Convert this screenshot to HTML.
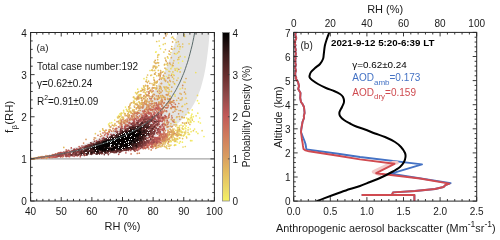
<!DOCTYPE html><html><head><meta charset="utf-8"><style>html,body{margin:0;padding:0;background:#fff;width:500px;height:240px;overflow:hidden}svg{display:block;will-change:transform}text{font-family:"Liberation Sans",sans-serif}</style></head><body>
<svg width="500" height="240" viewBox="0 0 500 240">
<rect width="500" height="240" fill="#fff"/>
<clipPath id="ca"><rect x="30.6" y="32.5" width="183.8" height="168.5"/></clipPath>
<g clip-path="url(#ca)">
<path fill="#e3e3e3" d="M30.6 158.9 L31.5 158.7 L32.4 158.5 L33.4 158.3 L34.3 158.1 L35.2 157.9 L36.1 157.8 L37.1 157.6 L38.0 157.4 L38.9 157.2 L39.8 157.0 L40.7 156.8 L41.7 156.6 L42.6 156.4 L43.5 156.2 L44.4 155.9 L45.4 155.7 L46.3 155.5 L47.2 155.3 L48.1 155.1 L49.0 154.9 L50.0 154.6 L50.9 154.4 L51.8 154.2 L52.7 154.0 L53.7 153.7 L54.6 153.5 L55.5 153.3 L56.4 153.0 L57.3 152.8 L58.3 152.5 L59.2 152.3 L60.1 152.0 L61.0 151.8 L62.0 151.5 L62.9 151.3 L63.8 151.0 L64.7 150.7 L65.6 150.5 L66.6 150.2 L67.5 149.9 L68.4 149.6 L69.3 149.4 L70.2 149.1 L71.2 148.8 L72.1 148.5 L73.0 148.2 L73.9 147.9 L74.9 147.6 L75.8 147.3 L76.7 147.0 L77.6 146.7 L78.5 146.4 L79.5 146.0 L80.4 145.7 L81.3 145.4 L82.2 145.1 L83.2 144.7 L84.1 144.4 L85.0 144.0 L85.9 143.7 L86.8 143.3 L87.8 143.0 L88.7 142.6 L89.6 142.2 L90.5 141.9 L91.5 141.5 L92.4 141.1 L93.3 140.7 L94.2 140.3 L95.1 139.9 L96.1 139.5 L97.0 139.1 L97.9 138.6 L98.8 138.2 L99.8 137.8 L100.7 137.3 L101.6 136.9 L102.5 136.4 L103.4 136.0 L104.4 135.5 L105.3 135.0 L106.2 134.6 L107.1 134.1 L108.1 133.6 L109.0 133.1 L109.9 132.5 L110.8 132.0 L111.7 131.5 L112.7 130.9 L113.6 130.4 L114.5 129.8 L115.4 129.3 L116.4 128.7 L117.3 128.1 L118.2 127.5 L119.1 126.9 L120.0 126.3 L121.0 125.6 L121.9 125.0 L122.8 124.3 L123.7 123.7 L124.7 123.0 L125.6 122.3 L126.5 121.6 L127.4 120.8 L128.3 120.1 L129.3 119.3 L130.2 118.6 L131.1 117.8 L132.0 117.0 L133.0 116.2 L133.9 115.3 L134.8 114.5 L135.7 113.6 L136.6 112.7 L137.6 111.8 L138.5 110.9 L139.4 109.9 L140.3 109.0 L141.2 108.0 L142.2 106.9 L143.1 105.9 L144.0 104.8 L144.9 103.7 L145.9 102.6 L146.8 101.5 L147.7 100.3 L148.6 99.1 L149.5 97.8 L150.5 96.5 L151.4 95.2 L152.3 93.9 L153.2 92.5 L154.2 91.1 L155.1 89.6 L156.0 88.1 L156.9 86.5 L157.8 84.9 L158.8 83.3 L159.7 81.6 L160.6 79.8 L161.5 78.0 L162.5 76.1 L163.4 74.2 L164.3 72.2 L165.2 70.1 L166.1 67.9 L167.1 65.7 L168.0 63.4 L168.9 61.0 L169.8 58.5 L170.8 55.9 L171.7 53.3 L172.6 50.5 L173.5 47.5 L174.4 44.5 L175.4 41.3 L176.3 38.0 L177.2 34.5 L178.1 30.9 L179.1 27.1 L180.0 23.1 L180.9 18.9 L181.8 14.5 L182.7 9.8 L183.7 4.9 L184.6 -0.3 L185.5 -5.8 L186.4 -11.7 L187.4 -17.9 L188.3 -24.5 L189.2 -31.6 L190.1 -39.2 L191.0 -47.3 L192.0 -56.1 L192.9 -65.5 L193.8 -75.8 L194.7 -86.9 L195.7 -99.0 L196.6 -112.3 L197.5 -127.0 L198.4 -143.2 L199.3 -161.2 L200.3 -181.4 L201.2 -204.3 L202.1 -230.3 L203.0 -260.2 L204.0 -295.0 L204.9 -336.0 L205.8 -385.1 L206.7 -445.1 L207.6 -520.2 L208.6 -617.2 L209.5 -747.5 L210.4 -933.0 L211.3 -1220.1 L212.2 -1730.5 L213.2 -2925.4 L214.1 -10120.7 L214.1 -277.9 L213.2 -81.5 L212.2 -27.4 L211.3 1.6 L210.4 20.5 L209.5 34.2 L208.6 44.8 L207.6 53.2 L206.7 60.2 L205.8 66.2 L204.9 71.3 L204.0 75.8 L203.0 79.7 L202.1 83.3 L201.2 86.5 L200.3 89.4 L199.3 92.0 L198.4 94.4 L197.5 96.7 L196.6 98.8 L195.7 100.7 L194.7 102.5 L193.8 104.2 L192.9 105.8 L192.0 107.3 L191.0 108.7 L190.1 110.1 L189.2 111.4 L188.3 112.6 L187.4 113.7 L186.4 114.8 L185.5 115.9 L184.6 116.9 L183.7 117.9 L182.7 118.8 L181.8 119.7 L180.9 120.6 L180.0 121.4 L179.1 122.2 L178.1 122.9 L177.2 123.7 L176.3 124.4 L175.4 125.1 L174.4 125.8 L173.5 126.4 L172.6 127.0 L171.7 127.7 L170.8 128.3 L169.8 128.8 L168.9 129.4 L168.0 129.9 L167.1 130.5 L166.1 131.0 L165.2 131.5 L164.3 132.0 L163.4 132.4 L162.5 132.9 L161.5 133.4 L160.6 133.8 L159.7 134.2 L158.8 134.7 L157.8 135.1 L156.9 135.5 L156.0 135.9 L155.1 136.3 L154.2 136.6 L153.2 137.0 L152.3 137.4 L151.4 137.7 L150.5 138.1 L149.5 138.4 L148.6 138.8 L147.7 139.1 L146.8 139.4 L145.9 139.7 L144.9 140.0 L144.0 140.3 L143.1 140.6 L142.2 140.9 L141.2 141.2 L140.3 141.5 L139.4 141.8 L138.5 142.1 L137.6 142.3 L136.6 142.6 L135.7 142.8 L134.8 143.1 L133.9 143.4 L133.0 143.6 L132.0 143.9 L131.1 144.1 L130.2 144.3 L129.3 144.6 L128.3 144.8 L127.4 145.0 L126.5 145.2 L125.6 145.5 L124.7 145.7 L123.7 145.9 L122.8 146.1 L121.9 146.3 L121.0 146.5 L120.0 146.7 L119.1 146.9 L118.2 147.1 L117.3 147.3 L116.4 147.5 L115.4 147.7 L114.5 147.9 L113.6 148.1 L112.7 148.3 L111.7 148.4 L110.8 148.6 L109.9 148.8 L109.0 149.0 L108.1 149.1 L107.1 149.3 L106.2 149.5 L105.3 149.6 L104.4 149.8 L103.4 150.0 L102.5 150.1 L101.6 150.3 L100.7 150.4 L99.8 150.6 L98.8 150.8 L97.9 150.9 L97.0 151.1 L96.1 151.2 L95.1 151.3 L94.2 151.5 L93.3 151.6 L92.4 151.8 L91.5 151.9 L90.5 152.1 L89.6 152.2 L88.7 152.3 L87.8 152.5 L86.8 152.6 L85.9 152.7 L85.0 152.9 L84.1 153.0 L83.2 153.1 L82.2 153.3 L81.3 153.4 L80.4 153.5 L79.5 153.6 L78.5 153.7 L77.6 153.9 L76.7 154.0 L75.8 154.1 L74.9 154.2 L73.9 154.3 L73.0 154.5 L72.1 154.6 L71.2 154.7 L70.2 154.8 L69.3 154.9 L68.4 155.0 L67.5 155.1 L66.6 155.2 L65.6 155.3 L64.7 155.5 L63.8 155.6 L62.9 155.7 L62.0 155.8 L61.0 155.9 L60.1 156.0 L59.2 156.1 L58.3 156.2 L57.3 156.3 L56.4 156.4 L55.5 156.5 L54.6 156.6 L53.7 156.7 L52.7 156.8 L51.8 156.9 L50.9 157.0 L50.0 157.1 L49.0 157.1 L48.1 157.2 L47.2 157.3 L46.3 157.4 L45.4 157.5 L44.4 157.6 L43.5 157.7 L42.6 157.8 L41.7 157.9 L40.7 158.0 L39.8 158.0 L38.9 158.1 L38.0 158.2 L37.1 158.3 L36.1 158.4 L35.2 158.5 L34.3 158.5 L33.4 158.6 L32.4 158.7 L31.5 158.8 L30.6 158.9Z"/>
<path d="M30.6 158.88H214.4" stroke="#a6a6a6" stroke-width="1.4"/>
<path stroke="#f4ee61" stroke-width="1.7" stroke-linecap="round" d="M185.8 128.7h0M193.9 121.5h0M168.1 58.2h0M181.0 125.2h0M182.2 127.8h0M180.8 68.0h0M168.3 141.3h0M180.1 135.3h0M185.1 127.9h0M192.3 109.9h0M120.0 113.9h0M189.5 134.5h0M178.5 62.9h0M188.1 119.2h0M191.9 114.2h0M191.1 131.7h0M198.5 121.8h0M199.7 118.0h0M183.8 117.8h0M142.7 104.8h0M175.8 145.1h0M175.7 144.9h0M191.9 140.7h0M204.0 136.5h0M168.6 83.9h0M176.0 54.2h0M118.6 115.7h0M196.3 131.8h0M200.4 123.0h0M128.5 109.4h0M186.1 122.8h0M190.0 120.6h0M181.1 130.9h0M184.8 124.6h0M190.4 121.7h0M174.9 84.3h0M187.9 121.1h0M198.9 103.3h0M181.1 135.2h0M184.4 135.1h0M166.5 76.5h0M125.5 107.1h0M111.7 122.7h0M156.1 51.8h0M179.8 131.9h0M141.9 88.3h0M119.3 116.9h0M179.2 137.9h0M186.4 136.5h0M182.6 61.2h0M108.6 124.2h0M121.0 114.6h0M188.3 127.5h0M183.6 129.3h0M190.9 122.5h0M155.7 52.2h0M125.2 113.7h0M129.7 110.7h0M177.2 142.0h0M182.4 142.2h0M168.6 135.3h0M192.3 119.0h0M128.7 106.9h0M188.2 134.4h0M176.6 139.1h0M170.0 141.7h0M174.2 141.0h0M179.1 134.9h0M190.3 129.0h0M186.7 118.0h0M187.9 119.8h0M189.1 113.0h0M197.5 100.7h0M179.3 143.1h0M177.6 128.9h0M189.8 119.6h0M193.3 116.7h0"/>
<path stroke="#f0e764" stroke-width="1.7" stroke-linecap="round" d="M177.2 70.1h0M134.4 98.7h0M159.5 45.9h0M172.7 65.7h0M175.8 122.2h0M179.8 48.9h0M175.6 135.2h0M175.0 144.8h0M184.1 132.2h0M180.1 88.9h0M155.6 67.7h0M171.9 67.0h0M134.8 98.1h0M114.7 120.1h0M191.3 115.9h0M139.1 95.6h0M176.4 117.6h0M171.6 37.6h0M120.6 114.0h0M197.9 133.4h0M197.8 113.2h0M137.7 89.2h0M144.0 78.7h0M160.5 48.8h0M169.6 141.2h0M174.8 94.5h0M186.0 125.9h0M194.6 129.0h0M181.4 135.4h0M173.2 74.6h0"/>
<path stroke="#eee067" stroke-width="1.7" stroke-linecap="round" d="M146.1 101.9h0M166.2 64.4h0M173.5 131.3h0M146.5 79.8h0M167.0 69.6h0M195.8 72.6h0M177.4 71.3h0M185.9 114.5h0M172.1 139.9h0M175.6 140.7h0M180.3 141.6h0M178.2 135.0h0M190.6 140.7h0M155.9 66.4h0M184.9 56.9h0M155.2 74.3h0M175.6 138.9h0M179.5 116.5h0M109.9 123.1h0M175.7 130.3h0M179.4 125.9h0M190.4 118.0h0M120.6 114.5h0M120.6 113.4h0M150.0 70.5h0M123.6 110.3h0M180.6 131.7h0M163.4 71.6h0M120.4 118.6h0M123.8 112.1h0M129.4 106.8h0M133.6 103.0h0M185.8 132.8h0M191.5 117.7h0"/>
<path stroke="#ebd967" stroke-width="1.7" stroke-linecap="round" d="M158.6 90.0h0M158.2 92.5h0M176.5 139.4h0M151.7 70.2h0M177.7 46.2h0M171.2 141.6h0M177.0 68.3h0M197.5 95.4h0M183.0 129.1h0M137.1 103.0h0M167.8 143.7h0M171.0 145.1h0M181.9 132.7h0M151.7 75.0h0M190.7 121.7h0M178.9 59.3h0M165.5 86.8h0M178.7 130.0h0M169.7 84.8h0M177.4 127.4h0M196.1 115.8h0M169.5 91.5h0M134.5 101.4h0M140.6 95.0h0M159.1 41.0h0M183.0 147.0h0M185.3 146.5h0M132.1 113.4h0M127.0 110.8h0M138.5 97.2h0M166.3 140.9h0M169.2 137.3h0M121.8 113.2h0M135.6 92.7h0M163.3 44.4h0M119.1 120.5h0M142.0 102.0h0M179.8 130.4h0M140.5 91.2h0M183.4 135.9h0M189.1 134.2h0M188.1 129.9h0M147.5 85.8h0M179.5 127.7h0M132.9 109.7h0"/>
<path stroke="#e9d365" stroke-width="1.7" stroke-linecap="round" d="M177.8 129.8h0M126.4 109.3h0M166.3 89.0h0M128.5 117.5h0M153.7 77.7h0M175.3 134.9h0M157.8 55.2h0M146.7 77.4h0M168.9 144.5h0M202.1 130.7h0M181.3 135.3h0M170.9 68.7h0M171.8 74.2h0M144.1 86.7h0M144.6 92.0h0M181.7 132.1h0M176.3 42.3h0M176.0 134.5h0M170.4 145.6h0M121.6 113.3h0M134.1 102.3h0M138.2 96.2h0M172.0 132.6h0M175.1 96.1h0M178.1 78.0h0M172.9 135.8h0M163.6 96.3h0M136.0 104.2h0M138.9 101.6h0M166.3 141.4h0M188.0 132.4h0M128.7 112.5h0M188.4 112.6h0M168.9 53.9h0M182.6 106.2h0M140.2 96.9h0M123.6 118.2h0M156.8 75.8h0M177.7 139.3h0M183.3 135.3h0M162.0 97.2h0M165.9 69.0h0M139.8 94.6h0M167.1 148.6h0M154.8 87.5h0M163.6 78.4h0M178.7 133.6h0M117.5 117.1h0M136.6 93.8h0M184.9 104.4h0M102.9 129.9h0M174.5 139.6h0M166.8 145.9h0M175.0 68.6h0M184.3 34.5h0"/>
<path stroke="#e8cc64" stroke-width="1.7" stroke-linecap="round" d="M177.4 53.0h0M160.1 87.4h0M141.0 90.9h0M146.6 81.5h0M168.9 71.3h0M179.1 44.4h0M173.7 78.8h0M135.0 98.6h0M180.2 56.4h0M152.0 83.6h0M145.6 94.5h0M167.9 91.6h0M169.2 89.6h0M160.9 96.6h0M172.7 129.0h0M182.2 132.0h0M182.6 46.8h0M184.6 36.4h0M165.3 89.7h0M121.9 117.6h0M185.7 131.0h0M175.1 39.8h0M185.1 82.3h0M162.3 146.1h0M174.4 145.3h0M118.5 116.9h0M165.2 43.6h0M182.4 128.7h0M155.4 88.7h0M121.1 115.8h0M119.6 123.5h0M140.1 104.7h0M188.3 119.1h0M169.8 71.5h0M95.4 133.7h0M163.7 38.1h0M100.1 131.3h0M145.8 85.8h0M163.9 52.1h0M170.4 140.5h0M184.9 133.9h0M186.0 98.2h0M173.7 132.7h0M158.3 70.4h0M154.4 74.0h0M179.0 130.5h0M170.9 52.6h0M154.5 82.6h0M136.9 93.3h0M152.5 70.4h0M189.1 43.8h0M149.9 90.7h0M152.9 87.8h0M153.9 84.4h0M154.9 81.5h0M124.4 113.7h0M155.7 87.8h0M152.9 70.6h0M33.4 158.5h0M127.7 111.2h0M154.3 98.0h0M138.3 95.2h0M157.7 59.7h0M164.3 139.3h0M154.7 70.4h0M159.3 97.4h0"/>
<path stroke="#e6c662" stroke-width="1.7" stroke-linecap="round" d="M173.0 135.9h0M162.5 77.9h0M172.3 49.3h0M169.2 78.0h0M108.6 130.0h0M147.6 95.1h0M164.4 65.0h0M172.3 132.5h0M156.3 89.1h0M169.9 134.9h0M186.7 137.8h0M169.0 101.6h0M138.2 97.5h0M184.9 132.5h0M145.3 92.8h0M165.4 49.6h0M177.8 133.9h0M178.3 127.7h0M154.2 61.9h0M175.7 133.7h0M130.3 103.9h0M174.1 75.3h0M154.6 102.7h0M176.8 125.0h0M171.0 101.7h0M172.9 71.9h0M136.2 98.8h0M173.9 60.7h0M133.6 101.1h0M174.6 139.1h0M165.0 98.2h0M169.7 96.3h0M120.3 119.8h0M167.8 134.4h0M118.8 123.0h0M193.4 130.7h0M144.9 88.8h0M146.0 94.1h0M151.8 92.5h0M158.8 54.7h0M158.8 75.6h0M174.5 48.6h0M165.5 99.6h0M130.2 104.3h0M125.4 120.7h0M173.0 131.8h0M185.2 88.8h0M171.1 137.6h0M133.4 97.2h0M138.7 91.6h0M156.7 41.5h0M132.8 116.7h0M153.6 66.7h0M159.4 86.0h0M184.0 82.0h0M144.2 89.5h0M122.8 117.4h0M161.1 78.0h0M169.1 139.0h0M172.3 138.0h0M177.1 138.4h0M164.4 141.7h0M141.4 102.8h0M171.1 130.9h0M156.8 147.7h0M130.6 108.0h0M160.1 73.4h0M158.4 99.1h0M177.8 59.6h0"/>
<path stroke="#e4c060" stroke-width="1.7" stroke-linecap="round" d="M145.8 97.5h0M171.8 46.5h0M120.8 122.1h0M173.0 137.1h0M169.4 85.0h0M158.7 65.5h0M142.7 97.5h0M149.5 87.9h0M180.1 71.9h0M143.6 85.8h0M163.1 143.5h0M137.2 111.5h0M161.0 87.7h0M177.7 132.5h0M175.8 141.1h0M182.6 138.6h0M168.5 87.8h0M151.4 101.5h0M175.2 70.1h0M176.0 124.5h0M171.5 136.0h0M129.1 111.6h0M134.2 106.0h0M141.5 97.4h0M174.6 138.2h0M127.9 114.7h0M141.7 97.7h0M154.0 79.7h0M155.6 72.5h0M159.6 146.6h0M165.0 146.7h0M166.3 147.6h0M148.6 81.2h0M182.7 44.0h0M155.5 82.6h0M152.2 70.1h0M153.3 66.1h0M163.2 142.6h0M177.7 136.0h0M179.7 134.2h0M159.5 102.2h0M179.3 129.5h0M155.8 68.4h0M169.1 133.7h0M177.2 130.4h0M192.3 120.1h0M128.0 114.3h0M153.5 85.0h0M154.0 94.3h0M131.3 112.7h0M137.8 92.4h0M133.9 97.0h0M165.0 140.4h0M103.8 130.5h0M144.0 87.7h0M169.4 148.5h0M156.8 82.8h0M159.8 74.4h0M170.1 96.2h0M118.0 117.9h0M137.8 106.6h0M184.2 123.2h0M174.9 141.4h0M170.4 64.4h0M177.8 130.5h0M173.8 140.0h0M115.0 123.6h0M139.7 98.0h0M139.6 102.9h0M150.8 75.4h0M164.0 76.6h0M169.2 131.9h0M174.0 129.0h0M133.0 102.5h0M139.4 95.4h0M34.3 158.6h0M172.8 139.9h0M179.9 138.0h0M154.7 84.8h0M144.8 90.3h0M128.4 116.2h0"/>
<path stroke="#e2ba5e" stroke-width="1.7" stroke-linecap="round" d="M146.8 100.4h0M165.5 81.3h0M156.9 81.7h0M177.2 131.3h0M182.0 106.6h0M164.0 86.9h0M157.7 57.1h0M109.3 125.7h0M181.7 99.7h0M172.5 77.2h0M133.1 111.6h0M179.1 110.5h0M189.9 124.5h0M175.8 126.0h0M182.1 117.4h0M154.2 145.4h0M165.5 142.6h0M167.8 143.3h0M145.6 103.6h0M122.9 117.0h0M114.1 126.0h0M158.8 145.2h0M164.2 146.1h0M113.6 125.5h0M140.2 103.4h0M165.1 58.1h0M145.6 101.4h0M166.4 138.4h0M141.4 90.7h0M174.1 131.6h0M160.5 95.7h0M167.5 56.9h0M167.9 130.2h0M136.7 99.8h0M158.6 62.8h0M169.0 75.1h0M176.7 100.3h0M178.9 51.7h0M170.9 123.7h0M157.0 67.0h0M188.7 122.9h0M173.7 38.5h0M168.2 134.1h0M182.6 111.7h0M186.7 103.5h0M182.5 88.0h0M186.6 122.5h0M135.3 104.4h0M154.1 103.7h0M142.4 100.1h0M160.6 70.6h0M63.8 147.4h0M183.0 126.1h0M172.2 132.9h0M166.8 123.0h0M171.4 91.4h0M176.9 80.3h0M158.3 97.9h0M145.0 100.9h0M151.4 91.9h0M147.6 75.0h0M171.3 136.7h0M44.4 157.4h0M107.3 132.8h0M172.7 37.0h0M129.4 114.8h0M136.9 108.1h0M138.8 108.0h0M156.6 85.8h0M167.6 65.0h0M185.5 93.9h0M179.4 130.8h0M168.2 130.7h0M168.0 136.1h0M149.0 102.6h0M140.0 107.9h0M160.4 86.5h0M172.3 65.1h0M134.3 102.8h0M109.4 125.9h0M154.4 82.9h0M156.4 145.4h0M172.4 134.8h0M156.6 63.0h0M178.7 135.2h0M182.2 97.9h0M134.1 109.8h0M102.7 128.8h0M155.5 67.3h0M166.3 135.2h0M139.3 102.3h0M143.2 89.6h0"/>
<path stroke="#e0b35e" stroke-width="1.7" stroke-linecap="round" d="M36.3 158.4h0M161.0 101.6h0M173.1 81.8h0M170.0 54.5h0M157.1 98.3h0M144.8 98.8h0M167.0 33.9h0M151.4 101.5h0M180.3 99.9h0M129.3 108.8h0M154.9 62.7h0M164.9 143.9h0M174.1 124.8h0M187.7 108.8h0M166.3 91.0h0M128.0 113.6h0M147.7 88.1h0M180.0 93.4h0M132.5 110.5h0M161.3 89.1h0M168.7 103.1h0M163.3 140.5h0M160.9 146.7h0M169.0 146.2h0M145.5 85.4h0M142.7 90.1h0M157.8 62.7h0M166.9 94.9h0M174.4 83.6h0M180.1 46.7h0M147.6 86.5h0M160.1 143.0h0M180.8 134.9h0M135.9 103.9h0M144.7 110.3h0M179.2 116.6h0M127.5 120.7h0M164.5 78.8h0M173.0 132.2h0M176.9 132.8h0M173.4 119.9h0M171.3 108.6h0M178.0 131.7h0M109.7 129.7h0M172.1 131.1h0M123.5 122.1h0M135.5 112.2h0M145.1 97.2h0M149.9 91.1h0M167.7 95.4h0M146.3 104.3h0M165.2 33.6h0M145.9 96.4h0M168.3 99.4h0M134.1 112.2h0M178.3 41.7h0M173.4 131.0h0M160.6 143.4h0M169.2 139.7h0M174.5 53.5h0M167.5 98.3h0M165.0 137.9h0M123.8 122.4h0M157.1 82.1h0M161.0 92.1h0M110.2 127.3h0M125.1 115.7h0M165.0 73.2h0M136.4 107.9h0M136.2 98.7h0M157.5 81.0h0M164.6 64.3h0M155.9 145.7h0M114.7 124.8h0M160.8 73.9h0M143.4 92.0h0M38.3 157.4h0M163.0 108.5h0M171.4 98.1h0M104.8 131.3h0M130.7 111.7h0M141.5 100.0h0M138.0 106.9h0M146.1 103.2h0M156.2 82.7h0M162.3 72.2h0M121.8 121.6h0M150.7 90.2h0M166.7 87.0h0M178.7 57.6h0"/>
<path stroke="#deac5f" stroke-width="1.7" stroke-linecap="round" d="M138.5 110.5h0M165.0 68.2h0M167.5 63.2h0M36.7 157.9h0M149.1 95.7h0M158.8 75.5h0M145.7 109.2h0M155.8 63.5h0M173.2 63.1h0M168.2 135.0h0M168.7 93.0h0M176.9 135.8h0M123.4 119.5h0M147.6 89.5h0M186.0 78.5h0M165.7 80.4h0M173.7 133.6h0M147.2 147.1h0M162.1 145.3h0M164.8 87.9h0M158.9 98.1h0M182.5 122.8h0M169.0 138.9h0M177.6 135.6h0M152.2 97.4h0M170.2 126.2h0M146.0 81.4h0M157.0 147.0h0M142.0 100.6h0M143.8 96.3h0M148.1 104.5h0M149.2 96.9h0M151.0 96.5h0M172.8 101.1h0M142.3 102.7h0M146.7 102.1h0M167.9 94.5h0M184.3 117.5h0M116.1 125.5h0M141.8 104.4h0M148.7 93.8h0M156.8 108.7h0M152.8 96.2h0M171.7 135.4h0M163.7 97.5h0M170.1 132.2h0M169.6 132.3h0M173.8 133.0h0M186.3 123.2h0M169.7 134.1h0M138.7 105.8h0M166.0 116.5h0M174.2 119.9h0M134.6 107.2h0M159.7 143.0h0M129.0 117.2h0M157.9 109.4h0M152.4 91.5h0M120.7 120.4h0M161.2 79.2h0M142.9 105.3h0M137.7 98.4h0M147.5 82.6h0M171.8 87.2h0M181.2 94.1h0M165.6 141.2h0M163.1 138.7h0M153.2 94.3h0M164.5 80.0h0M171.4 57.7h0M41.2 156.7h0M125.1 113.9h0M138.7 98.9h0M108.8 131.8h0M130.9 112.8h0M158.6 73.8h0M176.6 109.5h0M147.0 95.9h0M137.7 104.7h0M42.4 157.6h0M154.3 146.5h0M163.0 144.3h0M112.3 125.2h0M153.1 67.8h0M153.2 84.9h0M172.6 41.9h0M160.3 76.5h0M166.3 61.5h0M170.4 81.5h0"/>
<path stroke="#dca55f" stroke-width="1.7" stroke-linecap="round" d="M169.7 138.4h0M174.6 133.5h0M125.9 121.9h0M142.3 106.3h0M34.0 158.4h0M158.4 95.9h0M171.3 119.4h0M129.9 105.4h0M145.6 100.2h0M173.3 133.2h0M31.9 158.7h0M175.4 109.1h0M160.9 92.6h0M147.0 91.8h0M167.9 99.2h0M168.0 139.5h0M160.5 137.4h0M161.3 140.3h0M174.6 107.5h0M173.0 130.1h0M155.2 60.4h0M147.4 98.9h0M37.6 157.9h0M38.7 157.8h0M158.2 147.1h0M129.2 115.8h0M166.3 105.1h0M169.8 80.3h0M138.4 106.2h0M152.1 88.9h0M165.8 60.2h0M159.1 103.3h0M136.7 113.3h0M131.3 102.8h0M118.7 121.7h0M153.9 144.3h0M136.6 117.4h0M165.6 117.9h0M168.8 77.3h0M159.7 88.6h0M182.0 116.8h0M163.5 96.4h0M167.6 88.0h0M144.8 101.5h0M53.7 155.1h0M147.7 85.7h0M149.9 83.3h0M172.5 102.2h0M138.6 97.8h0M122.9 119.2h0M148.8 88.6h0M100.6 134.2h0M139.1 108.8h0M156.3 95.8h0M162.3 90.8h0M168.0 104.9h0M159.1 103.2h0M152.4 87.6h0M154.6 66.1h0M160.8 72.1h0M127.5 116.1h0M147.4 108.0h0M170.1 129.2h0M171.9 134.3h0M173.0 65.6h0M140.8 94.6h0M161.1 83.6h0M171.1 130.1h0M142.6 89.6h0M119.6 116.5h0M142.2 102.9h0M133.9 110.9h0M136.3 108.9h0M152.8 107.0h0M156.5 104.3h0"/>
<path stroke="#d99e60" stroke-width="1.7" stroke-linecap="round" d="M37.9 157.8h0M171.8 126.8h0M141.1 107.5h0M159.9 78.0h0M132.9 116.0h0M147.2 105.2h0M51.8 156.7h0M164.9 97.4h0M38.9 157.3h0M171.6 131.5h0M173.1 112.2h0M121.8 124.4h0M163.7 103.3h0M33.0 158.6h0M178.8 69.3h0M178.5 98.2h0M148.6 106.2h0M162.2 95.4h0M46.4 158.3h0M38.7 157.3h0M155.9 146.1h0M175.0 106.8h0M47.3 157.4h0M151.8 145.5h0M31.6 158.7h0M148.2 111.4h0M33.6 158.5h0M184.5 92.2h0M37.6 158.5h0M134.4 116.0h0M168.3 118.1h0M129.9 120.4h0M128.9 106.9h0M161.6 135.6h0M177.0 116.8h0M49.6 155.8h0M120.1 125.1h0M149.1 101.6h0M161.7 100.2h0M168.5 102.0h0M126.4 115.5h0M164.2 141.6h0M167.3 139.3h0M42.1 157.3h0M138.5 96.9h0M179.5 129.2h0M167.3 126.4h0M167.9 94.7h0M154.8 73.9h0M149.2 108.7h0M159.7 97.7h0M162.5 101.8h0M167.0 135.7h0M129.5 115.4h0M160.7 72.9h0M35.1 158.6h0M160.2 86.7h0M132.4 116.9h0M159.6 91.0h0M151.8 109.7h0M134.4 113.7h0M161.8 98.1h0M140.0 106.1h0M86.0 139.4h0M169.8 63.1h0M161.6 83.4h0M162.0 140.5h0M156.8 88.1h0M152.6 101.0h0M163.3 134.4h0M173.6 134.4h0M164.1 37.8h0M165.9 139.8h0M164.4 123.2h0M167.2 120.7h0M167.8 82.0h0M34.6 158.7h0M154.4 80.5h0M120.1 122.9h0M171.4 48.8h0"/>
<path stroke="#d79860" stroke-width="1.7" stroke-linecap="round" d="M49.1 157.2h0M151.6 103.9h0M163.4 75.4h0M146.4 108.4h0M152.2 101.4h0M161.1 100.7h0M143.4 111.5h0M150.7 105.5h0M154.9 99.4h0M143.6 105.7h0M166.0 125.2h0M156.3 107.1h0M143.3 104.8h0M145.7 104.0h0M179.9 119.3h0M143.4 106.8h0M178.8 103.5h0M140.2 110.5h0M132.8 116.0h0M159.9 144.9h0M94.3 137.8h0M124.8 121.0h0M140.1 107.1h0M41.3 157.4h0M153.9 109.8h0M153.8 87.9h0M171.0 132.2h0M147.0 101.3h0M35.1 158.5h0M174.9 111.1h0M166.7 111.6h0M171.7 102.3h0M144.7 109.5h0M151.2 108.0h0M166.5 135.9h0M158.6 102.0h0M160.8 139.1h0M42.3 157.8h0M137.0 104.8h0M35.3 158.2h0M164.2 141.2h0M168.7 139.0h0M172.5 120.6h0M162.1 137.1h0M164.1 107.1h0M137.2 97.2h0M169.3 131.5h0M161.3 103.1h0M113.1 128.3h0M163.3 140.5h0M162.5 100.2h0M163.4 136.5h0M176.8 134.5h0M166.1 134.4h0M147.1 106.4h0M150.9 100.1h0M95.6 138.0h0M117.1 121.7h0M166.9 133.8h0M165.9 35.8h0M31.2 158.8h0M166.4 107.9h0M177.5 106.7h0M138.1 107.5h0M159.1 138.6h0M155.5 146.3h0M170.0 102.5h0M143.6 98.7h0M110.9 126.8h0M137.6 98.8h0M160.3 75.4h0M171.3 75.5h0"/>
<path stroke="#d6925f" stroke-width="1.7" stroke-linecap="round" d="M163.3 138.6h0M139.8 108.5h0M144.8 103.6h0M169.4 113.7h0M142.2 106.8h0M46.9 157.4h0M112.9 128.8h0M150.8 90.6h0M150.3 110.3h0M164.8 137.0h0M158.1 143.1h0M167.3 137.8h0M163.4 112.0h0M164.5 110.2h0M36.2 158.1h0M35.4 158.0h0M33.6 158.5h0M163.2 140.7h0M147.2 110.9h0M175.3 107.3h0M152.3 143.5h0M162.5 141.3h0M153.4 146.8h0M113.4 130.9h0M134.6 112.2h0M144.5 104.0h0M158.6 103.2h0M159.5 93.4h0M170.2 101.0h0M167.2 127.2h0M153.3 105.6h0M38.6 157.7h0M161.7 99.9h0M159.0 138.3h0M166.4 136.8h0M162.1 117.2h0M167.6 135.1h0M144.1 95.6h0M178.6 113.8h0M141.3 98.3h0M156.4 142.9h0M167.6 140.0h0M125.9 120.2h0M166.3 94.7h0M153.2 107.4h0M144.8 103.5h0M161.0 111.7h0M143.5 102.9h0M171.4 108.1h0M174.3 122.2h0M148.9 107.7h0M154.4 94.6h0M171.1 136.9h0M157.3 143.0h0M169.3 51.1h0M173.0 106.9h0M158.9 139.5h0M154.7 103.9h0"/>
<path stroke="#d48c5e" stroke-width="1.7" stroke-linecap="round" d="M164.9 136.2h0M123.4 122.8h0M144.5 102.1h0M154.6 98.4h0M144.7 111.5h0M43.0 157.1h0M164.4 126.0h0M164.1 138.9h0M163.4 103.4h0M154.0 109.4h0M153.0 111.9h0M158.4 106.5h0M174.0 102.8h0M161.3 143.4h0M151.6 103.6h0M169.7 134.5h0M166.2 105.3h0M169.0 101.7h0M132.3 117.9h0M160.4 135.0h0M172.1 126.3h0M47.8 157.1h0M154.3 103.0h0M165.5 138.5h0M170.5 103.4h0M167.8 78.0h0M135.3 113.5h0M164.2 138.0h0M121.5 122.4h0M123.7 121.0h0M141.5 117.2h0M151.8 106.6h0M158.2 96.0h0M37.6 158.2h0M167.9 107.3h0M154.9 143.9h0M146.7 107.6h0M168.7 122.1h0M149.0 105.4h0M162.5 136.7h0M164.4 137.6h0M161.3 136.7h0M168.3 126.7h0M164.1 137.2h0M162.2 112.2h0M171.6 102.0h0M180.7 110.5h0M133.7 114.9h0M127.8 120.4h0M156.3 102.9h0M158.7 106.6h0M155.8 148.3h0M165.4 118.1h0M162.0 140.8h0M174.8 133.3h0M155.0 139.0h0M163.8 131.9h0M139.5 113.1h0M170.9 107.9h0M168.6 101.9h0M167.0 122.2h0M138.6 113.2h0M163.7 138.7h0M94.0 139.5h0M49.8 157.3h0M56.0 154.1h0M62.5 156.8h0M130.0 118.8h0M159.3 79.6h0M148.3 95.4h0"/>
<path stroke="#d3875e" stroke-width="1.7" stroke-linecap="round" d="M115.9 128.7h0M127.3 125.2h0M152.4 103.6h0M42.5 156.5h0M156.9 104.2h0M168.6 117.2h0M174.2 106.8h0M162.5 139.2h0M39.3 157.3h0M135.1 118.9h0M155.6 107.3h0M157.9 108.9h0M43.6 157.8h0M149.3 108.6h0M163.3 107.7h0M158.9 104.1h0M141.7 115.7h0M148.8 106.5h0M142.3 107.8h0M128.3 117.8h0M146.4 104.4h0M139.8 120.8h0M156.4 142.9h0M152.7 144.0h0M148.8 148.8h0M165.0 111.2h0M161.3 136.1h0M159.9 109.4h0M162.4 105.6h0M160.9 103.1h0M163.7 117.9h0M48.1 156.6h0M121.7 124.1h0M137.3 114.2h0M165.3 130.7h0M143.0 113.1h0M137.3 153.4h0M139.3 153.2h0M163.4 137.3h0M160.3 138.9h0M146.7 112.5h0M157.5 142.0h0M46.0 155.6h0M126.2 124.5h0M149.2 109.2h0M150.3 109.2h0M106.0 130.2h0M130.7 118.1h0M182.7 85.4h0M151.2 149.9h0M157.5 91.3h0M165.4 140.0h0M158.3 141.5h0M83.6 143.1h0M164.6 120.9h0M162.8 108.0h0M164.6 132.9h0M101.8 135.8h0M158.1 145.3h0M158.5 137.4h0M134.5 117.3h0M156.3 141.2h0M50.9 157.6h0M153.7 144.6h0M155.8 144.5h0M42.3 157.3h0M171.7 115.9h0M160.3 137.5h0M167.1 134.1h0M132.5 113.8h0"/>
<path stroke="#d1815d" stroke-width="1.7" stroke-linecap="round" d="M156.9 140.0h0M164.1 138.5h0M145.9 145.2h0M125.1 120.4h0M152.1 109.9h0M156.5 114.8h0M159.1 109.0h0M32.6 158.7h0M126.6 126.1h0M155.8 143.9h0M147.4 145.5h0M163.7 136.4h0M165.7 136.8h0M56.9 157.0h0M138.0 148.6h0M164.1 140.2h0M151.3 114.7h0M146.5 109.5h0M158.3 139.4h0M155.8 140.6h0M173.5 106.7h0M37.7 157.6h0M149.3 114.0h0M154.9 105.6h0M154.4 142.3h0M138.2 112.7h0M129.1 122.9h0M157.5 140.8h0M152.8 148.0h0M163.6 137.1h0M167.9 132.2h0M135.4 123.0h0M156.7 105.0h0M142.9 107.8h0M157.8 106.3h0M157.5 112.6h0M169.7 98.9h0M51.3 155.6h0M43.8 157.7h0M132.4 119.7h0M144.5 110.9h0M134.0 118.7h0M158.6 138.3h0M107.8 134.1h0M131.9 116.7h0M164.3 129.5h0M161.3 135.6h0M161.8 106.2h0M163.5 135.5h0M151.9 143.9h0M155.2 144.0h0M164.4 102.7h0M124.7 122.9h0M150.2 109.4h0M162.1 108.8h0M170.0 103.0h0M53.3 155.0h0M109.0 131.7h0M158.5 110.2h0M49.2 156.8h0M135.3 151.2h0M43.2 157.8h0M100.4 136.5h0M110.3 130.0h0M44.1 156.7h0M156.2 142.8h0M165.9 117.4h0M121.5 121.5h0M153.1 90.9h0M155.3 141.3h0M150.6 113.0h0M156.3 142.9h0M52.7 154.6h0M109.2 131.9h0M125.8 124.3h0M157.6 112.4h0M122.3 126.7h0M157.4 141.1h0M168.3 122.8h0M163.4 123.6h0M144.6 147.3h0M164.6 119.9h0M163.9 135.2h0M145.5 148.3h0M146.8 147.4h0M39.9 157.6h0M158.8 110.7h0M126.9 121.3h0M148.2 113.0h0M151.0 110.3h0"/>
<path stroke="#cf7b5c" stroke-width="1.7" stroke-linecap="round" d="M47.5 156.3h0M164.6 118.7h0M167.0 118.8h0M103.0 132.9h0M138.5 117.8h0M146.8 95.0h0M148.8 91.9h0M52.9 155.2h0M167.7 124.3h0M55.3 154.5h0M162.2 109.9h0M150.9 113.2h0M118.4 126.8h0M139.8 116.0h0M159.3 138.3h0M144.6 111.6h0M147.8 110.0h0M153.6 107.7h0M154.1 137.9h0M52.4 154.9h0M161.5 104.6h0M127.0 124.7h0M152.5 96.1h0M153.4 141.9h0M156.7 140.5h0M169.3 114.7h0M131.1 119.4h0M168.8 115.4h0M150.6 143.6h0M31.6 158.7h0M158.5 131.8h0M60.2 152.7h0M165.5 107.6h0M124.3 123.1h0M156.0 143.8h0M56.4 154.6h0M116.4 130.1h0M153.2 142.7h0M160.6 138.8h0M61.6 154.1h0M156.6 138.2h0M173.8 100.5h0M168.4 105.8h0M165.0 99.4h0M111.5 131.2h0M57.2 156.4h0M167.0 136.8h0M139.4 116.1h0M156.5 144.3h0M39.1 157.9h0M154.1 114.7h0M163.5 119.7h0M154.8 142.9h0M156.5 142.1h0M160.2 139.7h0M118.7 127.0h0M134.2 113.7h0M143.3 148.7h0M151.3 98.7h0M127.5 121.9h0M136.2 115.8h0M66.3 151.9h0M153.9 105.8h0M157.4 99.5h0M168.6 141.9h0M168.9 117.2h0M148.0 147.2h0M160.1 139.1h0M105.0 132.5h0M141.8 119.1h0M149.1 113.4h0"/>
<path stroke="#cd755b" stroke-width="1.7" stroke-linecap="round" d="M104.5 135.2h0M121.9 128.0h0M134.0 120.4h0M55.7 153.8h0M152.4 139.3h0M133.7 120.7h0M164.8 124.4h0M156.6 140.0h0M165.5 124.9h0M147.6 113.3h0M149.2 93.1h0M154.0 143.8h0M148.3 119.1h0M146.2 116.0h0M133.0 119.3h0M137.8 118.0h0M149.8 108.8h0M125.3 124.9h0M141.1 114.2h0M143.8 112.5h0M64.5 153.5h0M141.6 147.0h0M36.7 158.1h0M125.9 126.5h0M163.5 134.2h0M119.1 127.0h0M160.2 104.3h0M145.4 111.5h0M157.4 142.5h0M121.6 125.0h0M55.1 157.2h0M159.1 142.3h0M162.5 113.0h0M162.8 120.2h0M152.1 109.7h0M144.1 113.6h0M66.8 152.0h0M161.0 134.0h0M162.7 137.4h0M131.1 153.9h0M146.1 116.7h0M151.4 113.6h0M139.1 121.7h0M98.0 135.3h0M153.1 140.4h0M154.9 140.1h0M127.1 119.1h0M145.6 115.7h0M154.6 115.2h0M121.7 125.8h0M140.1 119.7h0M148.2 109.8h0M160.2 109.8h0M115.4 128.5h0M163.3 107.4h0M147.4 113.4h0M167.0 103.5h0M109.3 131.6h0M121.8 120.1h0M58.8 154.1h0M160.1 129.5h0M156.6 111.1h0M160.1 140.2h0M53.5 156.6h0M157.5 134.1h0M161.7 134.6h0M68.2 154.6h0M136.3 113.3h0M157.1 143.4h0M157.0 113.0h0M148.8 141.5h0M150.0 144.8h0M163.3 128.0h0M175.4 104.3h0M156.7 141.7h0M150.5 147.0h0M151.8 147.5h0"/>
<path stroke="#ca6f5b" stroke-width="1.7" stroke-linecap="round" d="M162.5 120.4h0M44.5 156.8h0M173.2 121.6h0M162.1 101.8h0M170.3 99.3h0M152.8 140.7h0M154.4 141.5h0M130.5 123.0h0M40.3 157.2h0M148.3 111.6h0M160.8 127.6h0M159.7 113.4h0M145.1 113.7h0M41.4 158.1h0M147.0 146.9h0M163.3 130.3h0M52.3 157.4h0M150.3 116.8h0M159.7 136.3h0M137.5 116.6h0M150.0 103.8h0M120.8 123.8h0M162.5 138.9h0M60.7 153.1h0M155.2 145.6h0M115.1 129.6h0M148.7 145.0h0M67.9 156.0h0M51.2 156.7h0M161.3 113.2h0M141.0 119.3h0M157.7 106.0h0M158.7 104.9h0M47.5 156.3h0M142.5 111.1h0M41.8 157.1h0M159.8 108.1h0M43.6 156.9h0M149.6 113.1h0M156.6 107.9h0M45.0 157.4h0M150.6 109.7h0M160.8 118.8h0M171.6 104.8h0M146.0 114.1h0M143.5 117.8h0M164.7 136.4h0M166.0 135.6h0M160.3 121.0h0M156.6 138.9h0M147.4 143.9h0M129.4 119.3h0M165.3 124.6h0M142.1 116.5h0M152.3 117.5h0M137.6 122.2h0M163.0 111.4h0M149.0 141.9h0M165.3 134.6h0M48.1 156.1h0M61.2 153.8h0M131.5 115.9h0M160.1 140.2h0M53.3 155.0h0M158.8 138.1h0M164.1 137.2h0M145.5 148.3h0M148.7 145.5h0M159.4 136.4h0M63.3 154.7h0M64.4 153.0h0M147.4 145.8h0M159.9 142.3h0M161.5 135.8h0M62.3 153.7h0M60.1 156.4h0M66.2 149.9h0"/>
<path stroke="#c86a5a" stroke-width="1.7" stroke-linecap="round" d="M57.9 154.7h0M160.9 116.9h0M143.2 118.0h0M146.3 115.0h0M166.5 110.8h0M172.5 106.6h0M167.2 107.7h0M152.4 119.3h0M152.9 141.9h0M163.9 133.0h0M77.2 155.6h0M85.5 155.2h0M58.7 155.4h0M165.4 134.2h0M68.3 155.1h0M133.4 120.7h0M137.3 112.7h0M60.0 153.5h0M166.6 116.8h0M54.1 157.0h0M159.8 130.5h0M162.5 128.9h0M60.3 153.1h0M149.3 112.4h0M159.3 133.4h0M144.6 146.4h0M69.2 152.5h0M66.6 153.7h0M154.3 113.9h0M152.1 141.0h0M157.8 125.8h0M149.7 142.2h0M162.2 137.3h0M161.1 115.6h0M148.1 118.2h0M154.2 114.1h0M158.8 107.4h0M134.5 121.7h0M147.4 115.9h0M141.0 119.4h0M157.4 138.6h0M150.9 137.9h0M55.3 156.8h0M145.2 115.3h0M124.6 127.8h0M53.5 157.1h0M163.7 117.6h0M150.0 98.5h0M57.4 155.7h0M160.7 134.7h0M153.9 141.7h0M147.4 145.2h0M149.2 144.8h0M58.6 152.8h0M160.9 108.7h0M154.6 137.5h0M162.4 134.2h0M135.0 148.7h0M143.7 145.6h0M164.3 128.3h0M161.0 113.2h0M55.4 154.7h0M159.5 139.1h0M158.8 129.2h0M152.2 142.4h0M58.1 156.0h0"/>
<path stroke="#c56459" stroke-width="1.7" stroke-linecap="round" d="M72.6 154.1h0M148.8 113.7h0M156.9 105.1h0M167.3 120.7h0M153.6 140.4h0M133.9 121.1h0M136.8 119.1h0M150.7 113.3h0M172.1 117.8h0M151.2 142.9h0M158.0 139.4h0M159.2 141.3h0M151.1 116.8h0M161.5 114.1h0M129.2 123.7h0M150.4 143.5h0M156.7 138.7h0M152.4 146.2h0M57.9 153.3h0M161.9 129.4h0M145.1 114.9h0M159.1 118.4h0M157.9 140.3h0M160.4 110.5h0M49.7 155.6h0M156.1 103.1h0M157.9 124.9h0M163.1 117.0h0M159.1 115.2h0M144.5 147.1h0M148.3 121.5h0M159.9 120.6h0M57.4 155.4h0M155.3 138.0h0M160.8 133.7h0M158.4 116.3h0M108.3 134.3h0M59.6 155.0h0M161.7 118.3h0M50.2 156.3h0M151.0 118.2h0M158.7 108.5h0M148.2 140.5h0M143.5 119.4h0M103.4 137.6h0M155.1 138.7h0M77.6 155.7h0M54.7 154.5h0M134.5 120.5h0M149.6 119.8h0M160.3 120.5h0M147.8 138.4h0M160.8 142.2h0M79.1 146.6h0M159.7 137.9h0M163.7 127.8h0M69.5 156.7h0M143.8 146.8h0M152.2 144.4h0M117.7 131.6h0M125.6 126.9h0M68.3 150.4h0M105.4 134.0h0M158.6 123.7h0M37.2 157.8h0M152.2 115.7h0M63.6 156.3h0M155.4 109.9h0M107.1 133.3h0M68.2 150.4h0M147.7 146.7h0M152.6 137.7h0M145.0 144.7h0M158.5 132.4h0M157.9 139.9h0M164.6 117.3h0"/>
<path stroke="#c35e59" stroke-width="1.7" stroke-linecap="round" d="M116.7 128.3h0M100.2 140.6h0M134.4 119.6h0M54.2 154.9h0M61.9 153.3h0M156.0 141.6h0M79.3 148.6h0M155.3 113.0h0M163.1 126.3h0M144.8 116.4h0M151.6 114.3h0M61.9 155.3h0M149.1 141.4h0M68.3 156.3h0M144.9 148.3h0M142.9 115.1h0M154.3 112.2h0M157.8 137.4h0M157.5 116.3h0M108.1 134.3h0M72.5 154.1h0M150.3 143.4h0M89.9 144.7h0M145.6 119.1h0M140.4 118.7h0M155.1 116.8h0M156.7 122.2h0M158.3 118.3h0M155.6 126.3h0M141.5 120.2h0M142.5 119.6h0M149.7 117.5h0M157.3 109.1h0M125.4 128.5h0M134.4 123.8h0M152.6 109.6h0M160.2 117.0h0M158.1 112.3h0M73.0 153.5h0M65.9 155.9h0M149.6 144.1h0M134.1 124.0h0M147.2 116.9h0M140.1 120.2h0M158.3 119.5h0M137.4 147.3h0M61.7 155.9h0M153.6 126.9h0M157.0 107.6h0M148.9 143.4h0M159.5 121.3h0M56.4 157.0h0M55.5 155.6h0M65.4 152.4h0M139.1 147.7h0M151.2 146.7h0M51.1 156.1h0M146.7 123.4h0M143.2 147.0h0M82.9 153.9h0M149.8 121.2h0M151.8 130.1h0M60.8 156.8h0M55.3 155.1h0M66.9 152.2h0"/>
<path stroke="#c05858" stroke-width="1.7" stroke-linecap="round" d="M162.2 121.6h0M154.6 139.6h0M154.1 117.2h0M157.2 116.9h0M138.8 148.0h0M143.9 120.0h0M150.7 135.9h0M159.5 132.9h0M134.5 150.4h0M154.9 131.2h0M104.0 138.2h0M52.3 155.9h0M134.3 121.7h0M142.0 145.6h0M76.6 150.4h0M155.1 108.6h0M125.1 127.1h0M164.3 128.9h0M77.7 150.0h0M145.2 114.6h0M71.7 151.0h0M135.5 118.7h0M158.5 115.9h0M76.0 155.6h0M161.1 111.9h0M54.1 155.1h0M150.9 115.3h0M147.0 117.4h0M156.8 108.3h0M151.8 144.3h0M148.5 112.9h0M158.1 113.2h0M160.0 120.3h0M155.0 121.5h0M121.2 128.0h0M145.5 121.2h0M153.4 141.7h0M147.9 141.5h0M144.2 110.9h0M154.0 123.0h0M124.7 128.1h0M140.2 121.6h0M142.7 118.3h0M152.5 140.5h0M150.0 137.1h0M163.2 130.4h0M156.7 115.2h0M160.2 127.6h0M70.8 151.5h0M160.9 126.2h0M153.7 114.1h0M135.3 148.6h0M66.6 153.7h0M132.5 123.8h0M134.5 121.3h0M74.2 149.2h0M160.0 132.4h0M147.7 141.2h0M144.2 119.9h0M159.0 130.3h0M60.5 154.6h0M69.3 153.8h0M150.5 128.1h0M65.3 154.1h0M67.0 151.3h0M80.3 156.7h0M125.9 152.8h0M136.8 150.0h0M138.9 149.4h0M162.1 118.5h0M55.6 157.2h0M162.5 124.9h0M52.5 155.7h0M54.1 157.0h0M152.8 141.5h0M146.2 123.1h0M135.7 148.1h0M140.8 118.8h0M145.4 116.4h0"/>
<path stroke="#b75555" stroke-width="1.7" stroke-linecap="round" d="M159.0 131.4h0M161.0 121.2h0M111.0 134.4h0M125.4 126.0h0M156.3 139.7h0M60.3 153.5h0M144.8 118.7h0M70.4 153.4h0M156.1 121.7h0M67.8 152.7h0M154.2 141.3h0M74.0 149.5h0M162.3 124.7h0M148.4 140.5h0M156.7 141.2h0M60.9 153.2h0M129.3 122.4h0M54.0 155.3h0M138.2 146.4h0M53.2 155.9h0M155.4 124.7h0M60.8 155.3h0M149.9 120.5h0M153.7 119.0h0M61.8 152.7h0M55.9 155.0h0M76.9 149.6h0M158.0 115.0h0M138.9 120.6h0M158.7 121.8h0M155.0 118.5h0M159.8 129.5h0M75.8 149.8h0M143.3 122.0h0M151.3 142.8h0M155.0 141.7h0M157.3 138.8h0M66.1 155.8h0M68.5 155.8h0M157.1 132.5h0M162.2 130.0h0M107.3 136.2h0M134.0 121.2h0M157.2 139.0h0M145.3 141.8h0M153.1 118.5h0M132.2 124.0h0M140.9 120.4h0M154.0 118.8h0M141.4 120.0h0M163.2 118.8h0M156.6 133.1h0M49.3 157.4h0M142.9 143.6h0M149.8 117.1h0M159.0 129.4h0M133.8 127.3h0M121.3 126.9h0M155.4 119.4h0M159.3 117.3h0M131.2 123.7h0M62.6 153.2h0M94.4 153.0h0M55.3 154.9h0M152.7 118.3h0M165.5 116.6h0M156.9 137.8h0M157.7 141.6h0M154.4 139.6h0M149.8 142.7h0M60.0 155.8h0M69.4 151.2h0M71.3 147.9h0M147.6 147.3h0M69.9 153.3h0M146.6 145.0h0M96.4 140.9h0M128.7 150.4h0M142.5 147.8h0M69.1 155.6h0M74.1 156.3h0M89.6 145.8h0M155.0 131.4h0M149.5 142.9h0M138.9 119.8h0M143.5 139.7h0M155.0 125.3h0M151.4 143.3h0M65.0 152.8h0"/>
<path stroke="#ae5252" stroke-width="1.7" stroke-linecap="round" d="M92.4 146.5h0M158.6 121.2h0M146.2 142.8h0M162.7 124.3h0M97.5 141.7h0M125.8 129.1h0M134.7 124.6h0M157.8 129.0h0M162.2 117.8h0M146.3 114.4h0M139.7 146.3h0M76.9 148.8h0M143.5 119.2h0M81.1 148.1h0M150.1 118.3h0M165.0 115.5h0M147.6 142.3h0M153.6 139.9h0M152.9 122.3h0M66.0 156.5h0M99.2 153.8h0M136.9 149.8h0M75.2 151.0h0M65.1 154.9h0M155.9 137.3h0M152.7 118.8h0M88.0 144.8h0M153.7 117.1h0M74.7 149.7h0M59.3 155.6h0M143.7 144.1h0M159.6 118.6h0M139.7 120.2h0M140.8 146.0h0M77.9 151.0h0M151.8 134.4h0M153.8 137.2h0M84.0 146.4h0M151.9 136.6h0M140.1 121.3h0M142.4 121.6h0M62.1 154.9h0M118.7 154.3h0M159.3 138.5h0M154.7 139.2h0M158.6 118.3h0M136.8 120.7h0M161.2 114.6h0M142.9 118.6h0M158.3 138.7h0M76.4 149.2h0M80.2 147.9h0M75.7 150.3h0M137.6 150.4h0M76.0 151.7h0M148.1 142.9h0M151.1 141.8h0M133.8 126.5h0M152.6 121.1h0M68.4 153.1h0M141.2 146.6h0M149.0 137.5h0M150.8 136.3h0M152.7 135.8h0M84.8 146.5h0M156.8 120.0h0M154.6 129.4h0M154.4 139.2h0M134.2 149.4h0"/>
<path stroke="#a64f4f" stroke-width="1.7" stroke-linecap="round" d="M144.9 141.5h0M102.2 138.8h0M60.2 152.7h0M132.9 125.7h0M84.3 147.9h0M159.0 121.2h0M66.1 152.1h0M146.0 118.4h0M155.9 127.9h0M87.8 146.0h0M138.8 120.9h0M86.3 146.2h0M139.0 146.6h0M144.1 144.8h0M145.1 144.9h0M156.7 142.7h0M152.4 120.2h0M153.8 123.3h0M66.8 151.4h0M56.8 155.7h0M127.9 125.9h0M58.0 155.0h0M142.1 122.6h0M59.6 154.4h0M143.1 127.0h0M128.2 125.3h0M77.3 149.6h0M144.7 117.7h0M159.7 138.8h0M77.5 152.4h0M111.8 135.7h0M60.7 156.3h0M152.4 137.7h0M120.2 133.1h0M72.6 155.7h0M65.1 153.6h0M151.4 116.9h0M146.7 118.4h0M78.1 152.7h0M99.6 139.4h0M155.3 122.4h0M115.3 151.2h0M76.4 153.0h0M76.6 150.6h0M127.1 126.1h0M89.4 145.0h0M154.4 117.6h0M114.0 135.1h0M159.2 135.1h0M151.4 142.1h0M153.0 143.1h0M58.5 156.3h0M154.4 117.6h0M143.1 116.1h0M134.2 122.2h0M133.3 126.1h0M79.1 149.8h0M82.0 146.0h0M130.8 150.5h0M67.0 155.3h0M144.0 138.9h0M152.1 116.0h0M156.3 124.1h0M143.6 140.9h0M133.2 122.7h0M146.2 143.7h0M61.2 153.9h0M158.5 120.1h0M137.7 124.8h0M155.1 115.7h0M124.8 126.8h0M61.4 156.2h0M78.8 154.6h0M137.5 147.2h0M66.9 155.0h0M143.5 143.4h0M137.0 147.1h0M117.0 132.6h0M154.5 119.0h0M135.5 149.2h0"/>
<path stroke="#9d4d4d" stroke-width="1.7" stroke-linecap="round" d="M74.9 154.7h0M115.2 131.4h0M122.8 128.5h0M84.9 148.4h0M74.4 152.4h0M144.6 142.1h0M154.5 131.0h0M147.8 141.0h0M148.7 121.6h0M104.5 138.5h0M94.6 144.4h0M65.9 154.8h0M89.8 151.7h0M159.1 117.2h0M154.0 118.1h0M155.9 122.2h0M57.5 156.3h0M154.2 141.9h0M66.8 156.5h0M141.6 117.5h0M76.0 151.0h0M152.4 119.4h0M120.9 150.3h0M140.7 148.0h0M62.5 155.1h0M86.3 150.8h0M63.9 152.1h0M92.7 143.7h0M90.0 152.3h0M145.9 143.9h0M73.4 151.4h0M152.2 119.1h0M153.4 124.7h0M152.6 124.9h0M154.3 132.2h0M158.0 131.8h0M143.9 122.6h0M148.1 118.4h0M80.0 149.0h0M134.4 125.7h0M153.0 135.8h0M136.5 123.8h0M152.5 126.2h0M147.7 141.1h0M138.4 147.2h0M67.1 155.8h0M145.0 121.1h0M154.7 115.5h0M138.2 122.3h0M57.9 153.8h0M157.4 130.2h0M131.0 126.6h0M146.7 124.8h0M116.7 132.0h0M146.7 137.8h0M143.1 123.5h0M155.0 125.3h0M148.5 117.2h0M82.3 150.0h0M153.7 142.2h0M72.3 150.8h0M145.6 142.8h0M147.1 141.5h0M149.1 140.2h0M142.4 147.1h0M63.1 155.1h0M150.9 119.8h0M126.3 150.1h0M128.8 149.1h0M132.6 148.8h0M60.0 155.3h0M145.1 142.6h0M107.7 137.8h0M81.9 151.2h0M134.0 147.7h0M137.1 122.8h0"/>
<path stroke="#944a4a" stroke-width="1.7" stroke-linecap="round" d="M73.3 154.8h0M144.0 143.8h0M73.2 150.7h0M152.0 129.7h0M88.7 147.6h0M154.0 127.3h0M103.3 138.3h0M152.3 132.8h0M153.4 129.3h0M142.4 128.0h0M152.9 126.5h0M149.3 124.0h0M124.9 129.0h0M117.5 131.6h0M150.3 126.3h0M152.1 120.2h0M82.3 149.7h0M148.6 119.0h0M98.7 153.3h0M102.2 153.4h0M70.0 152.6h0M152.7 124.9h0M162.8 117.8h0M131.2 149.2h0M134.9 127.5h0M132.4 126.0h0M79.6 149.9h0M153.4 142.3h0M157.2 115.9h0M151.1 120.9h0M70.2 154.7h0M149.0 133.3h0M137.2 123.7h0M93.6 144.6h0M156.9 132.5h0M133.2 127.0h0M81.6 154.4h0M108.5 151.9h0M114.7 151.7h0M133.2 148.5h0M140.3 120.0h0M145.8 116.5h0M89.5 145.9h0M73.5 153.6h0M155.3 130.3h0M154.4 123.1h0M159.0 124.2h0M151.0 128.7h0M160.2 131.8h0M145.8 128.0h0M151.0 140.1h0M153.0 139.9h0M112.3 152.0h0M132.7 148.3h0M79.5 153.6h0M156.1 121.9h0M66.5 151.9h0M90.1 146.2h0M129.2 127.5h0M144.8 118.0h0M146.4 116.1h0M144.7 124.7h0M153.5 127.5h0M61.9 153.8h0M158.8 122.1h0M144.0 145.5h0M142.2 141.6h0M156.5 115.5h0M149.3 132.7h0M133.1 125.8h0M121.0 128.9h0M69.5 154.2h0M131.1 126.9h0M89.0 145.2h0M148.2 119.8h0M153.3 134.4h0M65.7 154.8h0M157.1 124.5h0M143.5 123.1h0M151.7 126.8h0M82.9 152.6h0M143.4 144.2h0M74.2 149.9h0M151.4 126.2h0M147.3 120.2h0M94.5 141.4h0M138.1 144.0h0M157.8 117.4h0M60.7 154.7h0M66.7 154.2h0M138.7 143.4h0M157.8 129.4h0M159.7 126.6h0M133.1 123.2h0M154.5 133.8h0M87.1 146.0h0M161.4 114.9h0M140.0 143.9h0M140.5 148.4h0M72.2 155.3h0M86.9 155.0h0"/>
<path stroke="#8c4646" stroke-width="1.7" stroke-linecap="round" d="M145.6 143.8h0M156.0 127.7h0M120.5 132.8h0M156.7 121.1h0M74.5 151.3h0M143.2 144.4h0M74.2 150.6h0M140.2 124.8h0M143.7 122.0h0M149.5 119.2h0M59.1 154.9h0M70.9 155.5h0M82.4 147.5h0M140.7 119.1h0M142.6 117.5h0M69.9 154.4h0M146.5 123.8h0M132.6 148.7h0M85.4 146.8h0M101.4 141.9h0M158.3 114.3h0M82.3 150.2h0M117.5 151.2h0M135.8 148.4h0M102.0 140.7h0M143.7 119.8h0M69.2 154.1h0M145.7 124.8h0M106.9 139.9h0M84.6 154.0h0M123.0 148.9h0M81.0 149.2h0M146.4 142.4h0M146.5 116.0h0M78.7 154.6h0M120.9 130.6h0M147.9 141.3h0M85.4 146.5h0M153.7 120.8h0M146.4 123.5h0M129.3 126.6h0M73.4 151.0h0M150.7 125.2h0M151.6 125.7h0M80.6 149.3h0M144.4 121.2h0M133.4 127.1h0M72.2 154.7h0M148.8 129.9h0M94.0 152.2h0M124.5 150.2h0M58.8 156.0h0M68.8 154.5h0M136.0 127.6h0M73.5 151.3h0M82.2 154.1h0M141.7 122.7h0M121.9 133.2h0M138.1 120.9h0M140.5 127.9h0M132.7 123.3h0M98.5 141.4h0M128.9 128.8h0M98.9 153.0h0M85.8 152.7h0M137.8 124.4h0M152.0 132.6h0M147.8 118.5h0M144.0 143.8h0M140.9 125.0h0M83.8 154.3h0M129.9 149.2h0M101.0 141.0h0M114.5 135.5h0M135.8 124.8h0M143.9 140.6h0M150.7 139.4h0M101.5 153.7h0M151.5 132.0h0M154.4 132.4h0M158.4 128.5h0M150.3 133.9h0M151.3 132.1h0M136.4 144.9h0"/>
<path stroke="#854242" stroke-width="1.7" stroke-linecap="round" d="M73.8 151.1h0M132.6 127.8h0M140.1 143.1h0M149.1 141.0h0M144.6 135.5h0M88.6 145.7h0M80.5 148.7h0M150.7 128.4h0M84.6 147.8h0M147.0 121.7h0M147.0 133.2h0M152.7 116.9h0M74.7 150.2h0M87.1 147.1h0M114.4 152.6h0M113.6 152.4h0M142.8 145.5h0M135.8 146.9h0M91.6 145.1h0M121.9 150.7h0M147.3 127.3h0M156.3 128.5h0M115.2 152.4h0M117.1 132.0h0M101.4 151.4h0M149.8 122.6h0M131.0 127.4h0M141.1 143.1h0M147.6 128.0h0M135.2 146.3h0M145.3 145.3h0M142.1 145.8h0M81.4 154.9h0M74.1 153.8h0M77.9 154.3h0M80.9 151.3h0M151.9 128.6h0M81.9 149.6h0M129.8 126.3h0M79.7 154.1h0M135.5 124.5h0M71.9 153.8h0M83.1 151.7h0M82.3 151.0h0M151.0 126.7h0M91.0 152.3h0M132.8 146.6h0M84.3 155.4h0M86.2 148.2h0M87.0 145.9h0M146.2 119.4h0M75.0 154.7h0M139.5 125.0h0M81.3 153.0h0M143.3 144.0h0M131.4 128.9h0M150.9 133.7h0M153.2 131.7h0M154.0 127.5h0M70.8 155.5h0M85.6 152.1h0M85.7 147.0h0M134.6 150.7h0M143.7 132.9h0M157.4 125.0h0M87.5 150.3h0M107.7 153.0h0M131.3 148.4h0M152.5 130.0h0M141.9 143.0h0M148.3 142.6h0M94.1 152.7h0M112.4 135.3h0M133.4 148.9h0M141.0 143.6h0M151.8 120.4h0M143.8 143.3h0"/>
<path stroke="#7e3d3d" stroke-width="1.7" stroke-linecap="round" d="M86.8 148.2h0M71.1 151.7h0M150.1 132.6h0M131.8 127.0h0M138.4 122.9h0M88.1 146.2h0M90.0 149.4h0M106.8 139.4h0M128.5 128.6h0M131.2 127.4h0M147.3 132.1h0M75.6 153.4h0M109.8 152.7h0M121.2 151.1h0M83.1 152.1h0M98.7 153.5h0M143.8 126.1h0M89.6 147.1h0M120.9 151.1h0M147.8 132.9h0M151.4 133.3h0M138.3 145.3h0M146.0 124.5h0M140.2 144.0h0M134.1 124.0h0M128.1 148.3h0M123.0 150.6h0M131.5 148.8h0M146.1 123.8h0M84.1 147.7h0M146.3 131.6h0M153.7 134.0h0M76.2 154.6h0M102.2 151.0h0M109.1 138.5h0M87.1 147.8h0M149.0 121.5h0M152.7 118.2h0M83.7 154.0h0M85.1 148.5h0M120.6 133.5h0M156.1 125.0h0M87.2 147.2h0M141.0 124.0h0M145.4 133.2h0M118.3 135.1h0M151.2 124.6h0M138.5 143.5h0M113.3 151.8h0M153.5 123.5h0M123.1 130.6h0M145.9 123.2h0M129.4 148.1h0M133.9 147.1h0M145.3 142.8h0M148.4 121.0h0M147.2 133.5h0M154.3 131.8h0M127.0 128.7h0M130.0 127.6h0M115.3 135.2h0M149.5 135.0h0M91.0 149.7h0M96.9 142.5h0M113.7 136.6h0M127.5 131.1h0M150.2 120.1h0M87.6 154.2h0M117.1 151.6h0M140.4 145.5h0M82.9 154.0h0M149.7 128.1h0M98.4 143.5h0M138.6 145.7h0M87.3 152.8h0M78.8 151.6h0M98.8 153.3h0M148.1 123.2h0M75.4 155.2h0M148.6 132.5h0M89.5 152.5h0M140.0 142.5h0M125.1 150.3h0M141.3 146.0h0M84.2 147.6h0M76.3 153.0h0M135.5 144.2h0M149.4 135.1h0M91.1 154.1h0M102.4 152.0h0M126.3 150.4h0M153.2 127.9h0M148.0 122.1h0M100.9 152.9h0"/>
<path stroke="#773939" stroke-width="1.7" stroke-linecap="round" d="M152.7 133.3h0M93.6 145.0h0M129.2 128.6h0M133.1 125.4h0M141.8 146.9h0M146.0 122.3h0M135.2 144.8h0M78.9 149.6h0M132.6 127.3h0M134.8 127.8h0M92.4 144.7h0M134.5 126.5h0M149.2 134.3h0M79.0 150.8h0M89.4 152.9h0M137.6 144.5h0M148.4 123.7h0M116.3 152.5h0M127.8 150.0h0M86.1 145.8h0M115.5 134.7h0M148.0 132.2h0M84.0 152.6h0M134.0 128.7h0M145.0 119.3h0M144.8 142.0h0M98.2 141.9h0M76.5 155.0h0M113.9 150.5h0M139.2 145.5h0M85.8 148.8h0M80.6 155.1h0M103.9 152.5h0M133.6 148.3h0M120.5 151.9h0M147.0 140.9h0M95.8 145.3h0M93.6 145.0h0M150.9 134.4h0M89.0 144.9h0M132.6 126.0h0M122.0 130.3h0M131.4 126.8h0M145.1 138.6h0M87.8 153.7h0M134.3 148.3h0M150.3 119.8h0M157.4 123.9h0M78.2 149.6h0M78.8 150.1h0M100.4 143.1h0M153.3 128.4h0M123.3 132.3h0M80.1 152.6h0M143.9 138.7h0M85.7 150.2h0M88.8 148.5h0M104.3 154.6h0M108.4 154.6h0M130.6 148.4h0M81.4 152.8h0M139.6 143.1h0M123.3 148.1h0M147.2 123.5h0M139.1 144.8h0M151.8 133.4h0M140.5 142.8h0M142.2 125.4h0M144.3 122.1h0M146.3 123.3h0M89.9 145.1h0M102.8 141.6h0M129.0 128.6h0M137.1 122.6h0M131.0 148.4h0M130.4 129.7h0M149.2 121.7h0M152.2 117.0h0M149.5 128.5h0M123.1 130.6h0M95.9 151.3h0M136.1 146.1h0M154.3 133.1h0M143.8 131.2h0M157.6 121.5h0M143.5 120.0h0M100.4 152.3h0M116.5 150.7h0M109.3 151.1h0M100.4 142.4h0M126.6 131.2h0M91.4 143.2h0M120.3 133.9h0M73.7 152.1h0M90.8 142.9h0M110.2 151.9h0M91.3 152.6h0M97.8 151.6h0M113.5 134.6h0M120.4 131.2h0M142.4 143.6h0M119.2 150.4h0M135.7 145.2h0M77.8 151.6h0"/>
<path stroke="#703434" stroke-width="1.7" stroke-linecap="round" d="M142.4 144.6h0M120.6 129.4h0M143.8 137.5h0M139.7 130.2h0M139.0 125.1h0M102.7 140.6h0M97.7 143.6h0M150.6 130.3h0M140.6 131.5h0M128.8 149.1h0M131.4 148.6h0M93.6 144.6h0M146.6 133.4h0M110.9 141.9h0M76.2 153.2h0M89.5 151.4h0M97.4 142.2h0M106.8 138.9h0M125.5 131.5h0M142.0 123.7h0M143.7 133.2h0M141.0 127.1h0M143.7 130.0h0M131.1 147.7h0M134.1 146.5h0M141.2 145.5h0M118.5 148.4h0M126.4 147.4h0M87.1 147.7h0M149.3 136.9h0M85.2 152.7h0M140.6 139.1h0M110.3 136.7h0M93.7 143.4h0M132.8 127.1h0M140.0 141.2h0M142.9 126.1h0M82.6 154.6h0M133.8 125.5h0M141.4 129.8h0M146.6 128.9h0M148.3 127.0h0M146.5 134.8h0M133.4 128.4h0M138.9 124.9h0M106.5 152.5h0M132.5 144.2h0M82.5 153.5h0M140.1 139.0h0M144.2 142.3h0M131.7 148.9h0M120.8 132.5h0M136.2 128.2h0M134.2 145.7h0M135.5 145.9h0M148.7 127.7h0M152.2 136.4h0M118.1 148.1h0M144.3 141.8h0M96.0 152.3h0M123.8 148.4h0M145.8 121.6h0M149.5 133.2h0M107.8 140.7h0M123.0 131.8h0M90.6 150.5h0M86.0 146.7h0M86.4 147.5h0M87.4 151.1h0M104.8 139.8h0M101.7 142.9h0M110.7 139.1h0M140.9 142.0h0M131.2 124.1h0M79.5 152.0h0M94.2 152.8h0M137.6 146.5h0M144.2 142.8h0M140.8 144.1h0M144.3 129.1h0M103.0 140.2h0M151.9 130.8h0M125.2 149.9h0M142.0 142.2h0M146.8 140.3h0M145.7 127.3h0M97.7 153.9h0M96.7 143.8h0M106.6 138.8h0M79.3 154.4h0M99.1 153.6h0M107.8 152.8h0M132.5 126.0h0"/>
<path stroke="#693030" stroke-width="1.7" stroke-linecap="round" d="M71.6 155.0h0M108.6 150.3h0M137.5 144.2h0M148.3 131.4h0M141.6 142.4h0M81.2 150.0h0M139.1 137.7h0M141.9 128.9h0M137.6 144.6h0M135.6 126.8h0M142.5 122.9h0M133.7 130.9h0M96.4 143.4h0M129.7 129.7h0M133.5 128.2h0M87.4 150.4h0M148.3 124.4h0M116.8 151.4h0M137.7 146.9h0M143.9 134.7h0M140.4 140.1h0M85.1 148.9h0M135.6 144.7h0M100.3 152.9h0M102.6 152.9h0M114.0 152.0h0M133.5 149.6h0M107.6 138.2h0M109.5 138.0h0M86.5 149.8h0M92.3 148.1h0M137.1 127.2h0M140.1 124.8h0M91.3 147.6h0M135.1 144.2h0M151.8 119.8h0M106.9 139.7h0M127.2 129.9h0M137.4 122.8h0M128.6 146.0h0M90.1 152.3h0M78.5 150.2h0M94.5 145.2h0M139.7 143.8h0M139.5 134.9h0M143.3 131.5h0M146.7 128.2h0M75.9 154.1h0M88.1 147.4h0M140.5 124.2h0M124.0 149.9h0M148.2 127.9h0M87.3 148.3h0M89.4 149.8h0M94.3 144.7h0M123.5 134.4h0M137.8 126.3h0M115.8 151.8h0M120.4 131.2h0M139.1 145.0h0M140.4 142.3h0M150.8 138.9h0M86.6 153.1h0M98.1 143.4h0M90.1 150.3h0M92.1 150.0h0M144.7 128.8h0M85.2 150.4h0M136.3 130.4h0M139.9 127.2h0M127.5 128.6h0M121.5 147.9h0M145.7 139.2h0M94.6 152.1h0M128.3 147.6h0M84.8 150.0h0M124.0 131.9h0M96.1 144.9h0M149.1 131.5h0M111.9 151.9h0M133.1 147.9h0M135.4 126.3h0M140.3 124.4h0M119.4 152.4h0M146.7 130.3h0M142.1 122.1h0M148.6 134.4h0M139.4 129.2h0M124.5 132.4h0M140.0 141.3h0M102.3 151.9h0M123.8 148.9h0M140.1 145.9h0M136.9 143.5h0M140.4 139.0h0M98.0 143.7h0M146.1 129.4h0M92.2 153.0h0M122.3 131.2h0M94.4 152.7h0M139.0 143.4h0M151.3 119.6h0M120.1 150.5h0M75.3 151.7h0M146.5 135.0h0M89.5 151.1h0M78.1 155.0h0M110.0 150.0h0M98.7 142.8h0M143.2 133.9h0M128.0 149.5h0M106.1 152.9h0M109.6 152.0h0M130.7 128.2h0"/>
<path stroke="#622c2c" stroke-width="1.7" stroke-linecap="round" d="M110.2 150.2h0M85.7 148.0h0M154.1 131.0h0M101.5 142.5h0M113.4 136.7h0M83.1 153.2h0M146.1 127.2h0M137.7 131.2h0M138.4 144.9h0M141.6 143.2h0M144.3 125.5h0M134.4 128.6h0M140.5 125.1h0M150.6 131.4h0M136.0 142.0h0M113.0 138.0h0M93.3 145.6h0M146.9 128.1h0M91.8 154.3h0M112.6 151.4h0M87.2 149.1h0M140.3 127.5h0M150.4 131.8h0M135.1 128.1h0M93.2 146.8h0M130.6 133.0h0M87.6 147.1h0M142.4 130.1h0M122.9 148.6h0M64.5 153.4h0M146.7 125.1h0M110.8 138.7h0M112.2 136.4h0M117.8 133.7h0M140.2 127.9h0M129.3 130.1h0M143.8 128.3h0M143.4 136.2h0M71.3 154.3h0M90.5 146.4h0M117.7 150.9h0M73.3 152.6h0M125.3 131.5h0M95.8 149.2h0M142.2 134.1h0M90.9 153.1h0M102.1 150.6h0M115.4 148.2h0M145.8 126.9h0M94.8 151.6h0M124.0 131.4h0M144.6 126.4h0M145.7 132.1h0M137.9 144.4h0M102.9 151.4h0M144.2 136.4h0M94.8 145.0h0M137.2 127.8h0M103.8 141.3h0M127.3 130.6h0M90.8 151.7h0M84.9 152.9h0M112.2 138.4h0M116.7 149.7h0M96.0 144.5h0M139.0 139.5h0M145.0 132.6h0M136.9 141.7h0M81.9 154.0h0M90.5 153.0h0M136.3 146.8h0M83.3 151.7h0M138.6 136.6h0M142.5 135.4h0M139.6 127.8h0M105.3 150.6h0M140.9 139.2h0M145.3 139.3h0M105.2 151.3h0M105.5 151.4h0M98.4 152.1h0M137.7 144.5h0M121.4 133.3h0"/>
<path stroke="#5a2929" stroke-width="1.7" stroke-linecap="round" d="M98.5 149.2h0M92.6 153.1h0M140.4 132.9h0M146.5 131.0h0M108.9 148.8h0M142.5 142.1h0M134.8 134.7h0M138.8 131.6h0M140.0 131.8h0M135.8 138.1h0M138.3 129.8h0M84.4 148.3h0M145.4 126.7h0M112.1 139.6h0M123.0 134.2h0M91.5 145.8h0M130.3 131.9h0M90.2 152.6h0M125.8 130.0h0M131.0 129.4h0M112.6 139.0h0M145.6 130.1h0M139.0 139.8h0M95.1 146.7h0M107.3 140.2h0M143.6 128.5h0M148.3 125.5h0M145.1 127.9h0M80.6 152.3h0M133.0 129.4h0M147.9 121.8h0M96.9 144.8h0M110.9 150.3h0M121.0 148.2h0M136.2 145.8h0M98.6 148.9h0M143.6 134.9h0M140.2 126.1h0M124.9 147.2h0M116.6 151.5h0M80.4 153.2h0M92.0 146.6h0M87.7 147.0h0M90.5 149.6h0M92.5 152.5h0M103.5 144.0h0M107.4 149.8h0M138.2 144.0h0M104.9 139.3h0M136.8 128.5h0M146.6 124.0h0M99.7 144.4h0M95.3 146.2h0M144.1 137.1h0M135.6 127.4h0M94.6 151.8h0M97.3 151.2h0M140.9 133.5h0M142.1 134.8h0M113.2 138.3h0M90.7 152.0h0M101.7 150.9h0M123.5 146.5h0M90.3 146.7h0M140.5 124.6h0M142.3 126.6h0M125.6 130.0h0M84.6 151.2h0M147.7 131.0h0M98.7 142.6h0M144.3 127.1h0M145.0 133.4h0M91.7 146.6h0M94.2 150.0h0M112.8 136.4h0M137.9 129.6h0M93.9 145.7h0M145.4 138.1h0M88.7 151.9h0M138.0 127.9h0M99.0 152.2h0M126.9 132.0h0M129.1 147.4h0M139.2 140.4h0M141.5 139.1h0M103.0 152.2h0M86.3 151.6h0M148.9 134.7h0M95.9 144.7h0M98.2 144.0h0M149.7 125.6h0M130.0 129.4h0M136.6 127.8h0M118.9 151.0h0M98.5 143.6h0M122.1 149.7h0M112.3 148.0h0M138.0 139.8h0M101.4 144.6h0M119.6 136.1h0M107.6 151.0h0M128.0 147.2h0M110.5 150.3h0"/>
<path stroke="#522626" stroke-width="1.7" stroke-linecap="round" d="M90.9 150.7h0M129.5 147.5h0M142.0 138.1h0M112.7 146.7h0M138.7 142.7h0M140.0 143.8h0M102.0 146.6h0M143.1 132.8h0M142.5 132.8h0M143.6 130.1h0M141.9 135.7h0M90.4 145.6h0M130.5 127.8h0M125.6 146.9h0M132.4 145.6h0M90.7 151.7h0M147.4 125.9h0M118.9 135.7h0M130.3 145.7h0M142.0 127.6h0M110.1 139.8h0M91.2 145.1h0M107.9 139.0h0M109.2 139.5h0M144.6 125.2h0M125.2 130.6h0M141.9 139.2h0M99.5 143.2h0M116.1 138.9h0M149.4 126.7h0M154.9 121.4h0M124.7 132.3h0M140.9 134.8h0M91.7 151.0h0M92.9 150.8h0M138.9 142.6h0M104.4 142.0h0M137.0 144.7h0M127.7 146.3h0M130.1 132.8h0M96.3 142.6h0M134.9 132.9h0M97.9 144.4h0M122.0 149.5h0M136.5 136.7h0M85.1 151.6h0M108.9 149.3h0M94.7 147.0h0M142.7 138.2h0M146.4 130.6h0M92.8 152.4h0M116.0 135.5h0M91.9 148.3h0M138.4 141.4h0M124.4 133.0h0M111.6 151.3h0M117.8 150.8h0M147.3 122.8h0M144.4 131.0h0M138.2 132.9h0M141.3 137.9h0M111.4 138.5h0M116.9 137.3h0M131.2 145.8h0M154.5 126.7h0M98.1 146.0h0M96.2 151.0h0M104.2 150.3h0M106.2 150.6h0M139.8 140.4h0M90.9 153.9h0M151.1 121.1h0M96.9 151.5h0M113.8 148.4h0M121.7 132.2h0M91.4 150.8h0M141.8 132.2h0M146.7 130.9h0M118.4 149.4h0M123.7 147.0h0M106.5 149.9h0M109.4 149.2h0M121.0 146.6h0M110.3 151.3h0M108.5 148.3h0M128.8 131.7h0M133.6 128.2h0M118.9 134.4h0M108.9 139.2h0M148.3 135.0h0M135.6 130.9h0M139.1 129.0h0M102.9 141.2h0M147.7 132.8h0M113.1 148.6h0M110.1 138.8h0M89.8 150.0h0M139.4 138.6h0M134.4 146.3h0M123.3 148.3h0M129.2 147.6h0M142.3 137.8h0M100.4 143.2h0M132.0 148.6h0M104.4 152.0h0M126.1 132.5h0M93.1 146.9h0M81.6 152.9h0M88.3 151.2h0M103.9 141.8h0M87.2 152.6h0M125.5 143.3h0M137.5 135.2h0M120.5 149.8h0M115.6 149.5h0M116.6 149.3h0M119.6 133.7h0"/>
<path stroke="#4a2323" stroke-width="1.7" stroke-linecap="round" d="M107.0 149.9h0M133.5 141.2h0M135.0 143.6h0M111.7 135.7h0M141.7 137.4h0M147.5 126.9h0M120.0 133.7h0M100.1 150.3h0M101.8 150.7h0M109.1 150.0h0M131.9 145.9h0M130.6 133.9h0M135.2 130.7h0M132.3 131.0h0M140.7 127.1h0M138.1 137.3h0M115.3 148.0h0M104.1 139.9h0M105.4 140.5h0M118.2 136.3h0M85.9 150.9h0M114.5 138.0h0M152.3 128.7h0M94.9 145.4h0M95.6 148.1h0M126.5 149.7h0M90.6 147.5h0M97.1 144.1h0M119.1 137.3h0M146.1 127.1h0M146.0 131.2h0M125.5 146.7h0M129.6 146.1h0M109.8 140.5h0M142.4 135.1h0M144.1 126.4h0M128.1 137.1h0M133.2 144.4h0M120.9 134.0h0M78.9 150.0h0M113.3 136.8h0M119.5 148.6h0M133.6 145.1h0M104.9 149.0h0M110.2 148.8h0M121.0 147.6h0M129.0 146.7h0M140.2 138.0h0M142.4 135.7h0M97.6 143.6h0M88.5 153.2h0M139.6 139.5h0M143.4 138.4h0M99.2 141.6h0M107.6 138.7h0M138.5 143.0h0M107.4 150.2h0M134.4 145.0h0M116.2 138.8h0M130.8 132.4h0M93.8 146.7h0M97.9 143.6h0M92.3 146.7h0M138.5 130.5h0M143.3 130.8h0M97.5 146.3h0M124.0 132.1h0M135.4 127.5h0M97.1 143.9h0M130.1 130.9h0M136.4 147.8h0M136.4 142.6h0M98.8 151.0h0M81.2 151.4h0M112.2 138.1h0M126.4 130.6h0M127.6 146.5h0M110.3 149.5h0M147.2 127.5h0M126.0 145.8h0M98.3 150.5h0M104.0 142.7h0M147.2 122.9h0M130.6 145.4h0M101.0 144.1h0M138.0 134.6h0M127.8 146.0h0M137.6 142.4h0M121.6 149.4h0M123.7 147.7h0M101.5 146.9h0M112.9 138.1h0M144.4 124.5h0M139.7 135.9h0M106.8 139.4h0M101.6 150.1h0M134.7 142.3h0M130.5 130.5h0M141.3 123.4h0M107.0 149.4h0M131.4 144.6h0M141.9 136.8h0M145.8 133.4h0M136.9 127.3h0M129.6 146.2h0M148.0 132.2h0M106.3 149.5h0M131.1 146.3h0M112.3 150.5h0M92.3 149.7h0M124.1 135.1h0M96.4 153.5h0M141.0 135.5h0M107.0 150.7h0M108.0 149.7h0M124.5 146.6h0M132.2 145.6h0M99.0 154.0h0M105.2 153.1h0M139.6 135.9h0M140.6 135.3h0M95.5 150.5h0M101.9 149.6h0M140.0 139.2h0M145.6 135.1h0M89.7 153.4h0M98.1 153.6h0M113.6 150.3h0M132.8 145.9h0M138.1 135.4h0M116.5 150.7h0M128.8 148.8h0"/>
<path stroke="#432020" stroke-width="1.7" stroke-linecap="round" d="M118.3 149.0h0M97.0 147.4h0M112.7 148.9h0M136.3 144.8h0M83.7 151.0h0M145.5 131.5h0M140.6 136.2h0M135.8 131.8h0M111.2 138.7h0M143.4 139.7h0M116.3 134.8h0M122.0 135.2h0M133.3 130.0h0M102.7 143.2h0M129.8 128.1h0M119.9 143.1h0M107.8 146.7h0M138.7 138.0h0M102.6 144.0h0M114.3 148.2h0M129.4 145.2h0M123.4 132.2h0M95.9 145.6h0M103.1 142.9h0M105.2 141.7h0M138.3 131.4h0M143.5 130.1h0M127.1 147.7h0M130.9 145.2h0M96.2 154.1h0M137.3 128.6h0M87.9 149.1h0M101.1 147.9h0M141.3 138.9h0M122.8 134.3h0M116.2 146.0h0M116.3 149.2h0M97.9 152.6h0M118.1 148.1h0M106.7 140.2h0M128.1 148.6h0M96.0 144.4h0M107.4 140.0h0M113.6 138.0h0M135.5 132.5h0M134.0 132.5h0M142.3 136.9h0M121.2 134.4h0M134.5 127.9h0M100.9 150.6h0M97.0 147.6h0M101.9 145.6h0M141.8 140.8h0M126.8 133.7h0M131.4 131.0h0M125.4 147.0h0M89.7 147.6h0M132.2 134.2h0M93.7 146.5h0M144.8 131.7h0M122.0 148.3h0M140.0 131.3h0M102.8 149.6h0M107.7 148.5h0M136.0 142.7h0M125.4 147.8h0M100.9 150.0h0M134.8 140.1h0M136.9 126.4h0M109.4 138.9h0M115.8 135.9h0M119.5 137.1h0M146.2 127.6h0M105.3 146.0h0M91.7 149.4h0M120.9 137.3h0M97.4 143.1h0M145.9 135.7h0M109.7 141.2h0M128.5 132.7h0M119.6 135.3h0M116.2 147.6h0M110.1 142.8h0M126.0 146.5h0M135.5 142.6h0M117.1 135.2h0M94.4 150.6h0M148.4 127.2h0M132.8 146.7h0M130.6 142.7h0M92.7 151.3h0M108.3 140.5h0M124.2 133.9h0M93.5 149.4h0M149.2 131.3h0M139.2 141.7h0M105.2 141.0h0M138.4 131.4h0M97.3 145.9h0M139.3 133.5h0M146.8 131.3h0M90.7 151.0h0M86.6 153.6h0M88.2 151.9h0M113.5 147.3h0M119.6 148.4h0M126.8 148.2h0M130.4 146.6h0M145.3 132.4h0M105.5 141.5h0M116.1 138.3h0M93.2 148.2h0"/>
<path stroke="#3b1c1c" stroke-width="1.7" stroke-linecap="round" d="M124.7 148.4h0M137.8 137.7h0M131.0 135.7h0M106.2 143.4h0M141.2 131.5h0M94.0 148.8h0M111.1 149.7h0M99.3 144.1h0M104.8 142.9h0M141.6 130.3h0M110.8 139.4h0M120.3 135.9h0M98.8 145.0h0M107.9 141.9h0M124.8 132.7h0M115.0 137.5h0M134.5 137.4h0M141.9 139.8h0M97.8 147.9h0M140.5 134.8h0M141.2 137.3h0M90.5 149.6h0M134.5 141.6h0M140.6 126.5h0M130.1 133.5h0M141.2 128.0h0M102.4 145.0h0M137.1 133.6h0M104.5 143.1h0M103.5 150.4h0M110.8 141.7h0M109.9 137.6h0M133.8 137.5h0M130.7 142.8h0M126.9 133.6h0M91.6 152.1h0M129.7 146.4h0M128.4 139.4h0M99.3 142.3h0M95.7 150.1h0M102.1 142.2h0M102.2 150.3h0M133.0 145.2h0M95.9 145.1h0M129.0 135.5h0M102.1 143.0h0M126.5 147.9h0M135.1 134.3h0M139.7 134.2h0M144.2 132.4h0M138.7 142.5h0M97.7 151.3h0M130.8 143.4h0M101.4 142.2h0M95.9 145.1h0M140.2 129.9h0M110.8 149.2h0M109.7 139.4h0M117.4 138.2h0M100.6 144.4h0M108.4 141.4h0M138.6 126.7h0M140.5 127.3h0M96.3 145.9h0M127.1 139.6h0M142.2 123.1h0M96.0 151.3h0M101.2 150.5h0M126.0 147.1h0M116.3 136.2h0M87.4 148.9h0M135.9 133.8h0M109.2 149.3h0M116.4 147.6h0M117.7 148.6h0M86.8 154.7h0M121.9 141.1h0M120.7 136.2h0M120.1 147.9h0M122.7 131.8h0M135.3 131.8h0M138.4 130.0h0M101.3 152.3h0M111.5 138.2h0M140.1 128.2h0M109.8 139.3h0M105.7 139.0h0M137.9 129.7h0M121.5 143.3h0M122.5 133.6h0M133.4 127.3h0M134.1 129.3h0M107.9 143.6h0M115.2 147.1h0M127.4 145.9h0M139.9 136.2h0M126.2 133.2h0M132.1 131.6h0M106.0 145.0h0M131.6 129.9h0M105.2 146.7h0M101.1 149.6h0M135.6 140.3h0M105.1 152.1h0M130.2 144.8h0M136.5 143.5h0M140.7 137.7h0M115.1 138.7h0M105.2 141.2h0M136.2 128.4h0M109.9 149.6h0M125.4 146.7h0M128.4 146.1h0M112.8 139.3h0M108.0 139.6h0M124.3 133.2h0M131.2 130.9h0M109.8 147.5h0M132.7 140.7h0M114.7 144.0h0M84.9 151.3h0M131.7 145.8h0M130.5 147.3h0M125.1 132.9h0"/>
<path stroke="#321818" stroke-width="1.7" stroke-linecap="round" d="M111.9 150.0h0M105.9 142.7h0M94.7 149.7h0M113.9 148.3h0M126.3 146.5h0M102.6 147.2h0M134.8 138.5h0M139.1 136.6h0M132.7 144.6h0M94.1 146.8h0M134.0 135.0h0M129.1 134.0h0M130.7 146.4h0M131.6 147.9h0M138.6 129.2h0M97.0 144.9h0M125.7 133.4h0M137.2 129.0h0M106.5 141.2h0M97.6 151.5h0M132.2 129.8h0M111.8 148.9h0M144.1 131.0h0M135.5 135.0h0M134.0 133.0h0M130.6 137.9h0M138.1 133.2h0M99.7 145.3h0M111.2 139.2h0M102.6 148.0h0M118.5 138.1h0M138.7 130.3h0M134.7 130.1h0M129.2 130.9h0M117.3 146.1h0M121.8 144.9h0M131.0 131.8h0M139.3 130.1h0M132.3 127.7h0M95.3 144.3h0M94.0 151.7h0M121.4 134.7h0M116.6 139.2h0M132.5 132.1h0M119.3 147.9h0M86.2 150.6h0M138.7 140.7h0M137.4 135.4h0M102.2 148.3h0M145.2 136.1h0M133.3 132.4h0M106.3 150.4h0M105.4 152.0h0M120.1 137.5h0M94.5 148.1h0M144.3 132.3h0M122.4 138.0h0M147.0 127.4h0M96.5 148.4h0M101.6 147.5h0M131.2 131.4h0M131.5 143.6h0M134.7 143.5h0M136.7 142.0h0M92.6 148.4h0M132.1 144.6h0M107.0 141.8h0M123.8 134.9h0M137.3 129.4h0M111.5 141.9h0M123.9 137.0h0M125.0 135.7h0M108.3 142.0h0M114.7 149.9h0M112.5 142.0h0M122.7 145.6h0M134.3 143.4h0M114.7 147.2h0M126.0 144.7h0M137.2 141.5h0M141.0 140.6h0M133.3 144.2h0M96.7 145.9h0M129.8 133.1h0M133.1 131.3h0M97.7 144.1h0M106.8 140.8h0M133.0 132.0h0M142.4 137.9h0M92.1 146.6h0M97.1 148.6h0M116.6 135.4h0M81.6 153.5h0M137.7 127.1h0M131.0 135.4h0M106.4 142.7h0M128.2 133.1h0M140.5 133.8h0M98.0 152.8h0M136.9 146.0h0M117.1 136.8h0M141.5 135.2h0M131.3 145.0h0M109.9 144.5h0M145.5 134.1h0M117.6 143.1h0M138.0 139.7h0M125.3 133.8h0M103.5 149.3h0M132.3 144.6h0M125.1 145.4h0M136.1 142.9h0M101.8 146.7h0M140.5 134.2h0M96.7 151.9h0M115.5 139.3h0M140.7 128.3h0M139.1 129.8h0"/>
<path stroke="#291414" stroke-width="1.7" stroke-linecap="round" d="M101.1 144.0h0M106.8 141.7h0M127.0 140.1h0M133.2 136.4h0M97.8 150.9h0M102.7 146.8h0M147.9 133.6h0M130.9 130.9h0M136.5 132.6h0M107.9 149.3h0M119.7 146.7h0M123.9 134.9h0M118.3 138.7h0M99.0 148.6h0M137.3 138.2h0M100.8 147.8h0M111.1 146.7h0M101.9 144.8h0M131.5 136.4h0M143.8 130.8h0M123.2 135.4h0M106.6 143.3h0M133.7 134.2h0M135.1 141.2h0M104.9 144.3h0M101.6 144.2h0M145.0 125.1h0M100.1 147.6h0M143.3 127.3h0M129.2 146.9h0M123.2 134.4h0M135.3 131.0h0M100.0 144.0h0M135.2 132.6h0M140.3 131.2h0M144.5 130.6h0M121.1 136.8h0M120.5 144.3h0M120.5 141.6h0M105.8 148.9h0M123.3 148.2h0M117.4 141.5h0M112.7 144.3h0M125.5 145.1h0M139.1 133.8h0M126.4 145.8h0M129.9 145.6h0M131.6 144.1h0M119.5 135.7h0M115.0 139.4h0M97.7 145.6h0M101.6 143.9h0M115.2 139.0h0M123.3 139.0h0M115.4 140.7h0M130.4 133.6h0M119.1 138.5h0M96.4 148.2h0M96.6 146.5h0M131.2 134.6h0M112.4 143.6h0M103.7 147.2h0M98.1 148.9h0M103.1 150.7h0M128.4 146.0h0M105.5 146.7h0M88.5 152.6h0M114.8 148.1h0M119.0 147.3h0M101.1 144.2h0M133.2 133.1h0M108.0 142.7h0M125.6 137.4h0M104.7 150.9h0M106.4 150.0h0M120.9 138.7h0M128.5 144.9h0M108.0 142.4h0M133.7 139.3h0M102.9 143.6h0M107.8 142.4h0M140.8 129.2h0M130.3 139.5h0M101.8 148.6h0M111.7 137.2h0M123.9 139.5h0M130.1 143.9h0M137.1 138.7h0M104.2 144.2h0M134.7 129.9h0M93.6 145.0h0M101.9 150.5h0M99.9 149.6h0M132.0 141.1h0M130.8 142.8h0M98.3 146.3h0M100.6 147.4h0M97.1 150.4h0M100.5 149.8h0M113.8 150.0h0M119.6 147.0h0M131.1 135.0h0M95.1 147.7h0M133.5 139.9h0M118.3 148.7h0M120.4 149.6h0M126.6 147.6h0M96.1 147.9h0M103.0 151.5h0"/>
<path stroke="#200f0f" stroke-width="1.7" stroke-linecap="round" d="M126.3 147.8h0M136.0 145.7h0M88.4 149.0h0M137.2 136.4h0M140.7 135.0h0M132.7 140.0h0M96.4 146.2h0M97.7 145.6h0M136.9 136.9h0M107.0 146.1h0M98.4 148.5h0M123.5 135.2h0M132.7 132.2h0M118.8 147.9h0M137.3 133.7h0M98.9 144.0h0M125.5 146.3h0M124.3 135.6h0M109.4 140.4h0M112.4 139.3h0M95.8 150.8h0M120.1 135.4h0M113.5 141.5h0M122.2 137.1h0M132.0 133.8h0M130.6 139.6h0M103.1 146.1h0M105.6 146.8h0M126.9 135.7h0M131.4 132.3h0M138.7 131.0h0M111.5 149.2h0M124.9 135.0h0M122.9 136.9h0M111.6 140.6h0M127.0 146.7h0M126.6 133.9h0M132.9 138.4h0M101.3 145.7h0M139.5 133.0h0M104.2 149.4h0M113.1 148.4h0M124.3 143.1h0M107.4 148.9h0M119.9 147.3h0M124.1 146.1h0M110.9 140.8h0M127.3 133.6h0M131.3 130.7h0M131.2 142.4h0M136.8 139.9h0M109.2 148.9h0M95.8 151.3h0M94.4 148.8h0M113.1 149.0h0M121.5 147.1h0M127.1 134.7h0M116.2 137.9h0M131.8 131.0h0M124.3 133.4h0M124.6 134.8h0M123.4 136.9h0M134.5 132.3h0M115.0 143.4h0M104.2 143.1h0M106.1 143.0h0M101.1 144.9h0M110.9 141.4h0M137.7 139.7h0M140.4 138.6h0M123.4 146.9h0M110.5 145.2h0M120.1 144.3h0M118.1 142.3h0M134.3 135.8h0M130.2 144.7h0M106.8 146.9h0M116.3 140.6h0M127.5 146.0h0M122.9 136.5h0M134.2 135.1h0M108.4 149.8h0M115.1 148.9h0M123.5 144.4h0M118.5 147.6h0M96.4 145.0h0M106.1 141.4h0M105.0 143.4h0M134.1 137.5h0M111.8 137.9h0M115.0 139.5h0M119.4 137.0h0M123.3 136.1h0M127.2 135.0h0M104.5 146.2h0M141.5 126.9h0M116.1 138.0h0M113.8 148.2h0M119.2 147.1h0M132.0 140.5h0M126.1 146.8h0M122.9 133.0h0M126.7 141.4h0M124.7 135.6h0M112.9 140.7h0M128.0 147.5h0M137.9 134.5h0M108.0 151.2h0M107.7 149.5h0M121.3 149.5h0M130.4 146.8h0M120.1 143.5h0M117.7 148.9h0M109.5 140.3h0M129.3 145.2h0M110.6 141.8h0M119.4 138.3h0M126.4 135.7h0M102.0 146.5h0M97.4 149.6h0M97.1 150.2h0M108.3 148.5h0M115.6 147.2h0M133.4 141.5h0M134.4 141.4h0M128.9 131.5h0M109.7 148.9h0M109.0 145.0h0M104.3 143.2h0M119.6 148.7h0M114.4 138.5h0M104.1 145.1h0"/>
<path stroke="#170b0b" stroke-width="1.7" stroke-linecap="round" d="M112.3 145.8h0M105.4 150.5h0M109.7 140.8h0M109.0 144.6h0M127.6 146.4h0M119.3 143.2h0M125.4 134.3h0M103.0 150.1h0M105.0 149.7h0M121.3 147.8h0M114.8 141.0h0M121.5 137.7h0M111.4 144.6h0M96.4 148.8h0M138.8 134.0h0M117.8 142.1h0M112.2 145.5h0M100.8 145.2h0M124.0 135.2h0M106.3 147.8h0M110.5 142.3h0M117.2 140.6h0M120.3 138.6h0M122.9 144.5h0M128.4 143.8h0M112.8 140.0h0M111.4 141.9h0M119.7 142.8h0M136.5 136.7h0M136.4 130.3h0M113.2 141.9h0M95.5 150.9h0M118.3 147.3h0M126.3 145.7h0M92.6 147.0h0M129.5 134.9h0M131.4 140.2h0M103.1 150.0h0M109.3 143.4h0M141.3 134.0h0M119.4 136.2h0M115.1 140.3h0M107.6 146.1h0M100.7 147.8h0M129.9 144.8h0M122.9 139.5h0M114.2 138.8h0M126.9 134.2h0M126.2 131.7h0M97.1 147.8h0M142.4 132.0h0M103.1 146.3h0M110.9 144.9h0M129.0 132.0h0M103.7 146.7h0M104.1 148.2h0M128.2 136.4h0M125.5 145.7h0M128.1 146.1h0M122.0 138.7h0M139.9 134.5h0M122.9 139.6h0M134.7 142.1h0M126.1 145.8h0M130.8 129.3h0M131.2 132.6h0M107.1 145.6h0M119.7 142.4h0M132.3 136.9h0M139.3 133.2h0M118.9 138.0h0M128.7 133.8h0M142.1 135.9h0M140.0 138.3h0M112.1 140.3h0M140.3 128.6h0M132.5 140.4h0M134.8 139.1h0M135.9 139.0h0M138.2 137.9h0M121.2 144.6h0M129.1 142.5h0M121.6 147.8h0M114.7 147.5h0M108.1 149.2h0M119.6 147.0h0M121.4 146.7h0M133.9 132.7h0M117.1 146.1h0M91.7 152.8h0M132.3 131.9h0M123.6 148.2h0M133.8 130.2h0M91.0 148.4h0"/>
<path stroke="#0e0707" stroke-width="1.7" stroke-linecap="round" d="M115.5 138.9h0M107.7 144.7h0M111.2 145.8h0M121.4 139.9h0M93.6 147.6h0M98.4 148.5h0M124.3 142.8h0M133.0 140.0h0M113.2 148.8h0M123.6 136.1h0M118.3 137.0h0M133.8 132.8h0M112.4 141.2h0M126.1 135.4h0M93.6 149.0h0M133.1 142.7h0M106.8 146.2h0M130.6 132.6h0M135.9 131.1h0M123.1 138.7h0M115.5 141.0h0M126.5 134.5h0M129.6 133.2h0M121.1 136.5h0M117.4 140.5h0M129.6 134.4h0M114.0 147.0h0M129.5 143.0h0M94.5 146.7h0M123.9 135.0h0M117.6 138.4h0M136.2 132.7h0M123.0 135.2h0M100.8 148.5h0M113.4 143.2h0M107.1 142.4h0M121.4 136.0h0M126.2 142.5h0M115.9 143.7h0M120.2 142.5h0M126.4 138.7h0M116.8 139.2h0M118.3 138.9h0M137.9 136.2h0M122.1 144.0h0M104.0 148.9h0M122.8 147.1h0M131.0 134.4h0M126.6 145.1h0M103.6 141.9h0M127.8 137.2h0M121.0 138.5h0M121.5 139.7h0M110.8 145.3h0M125.1 141.9h0M130.3 140.5h0M120.6 142.6h0M110.7 143.9h0M120.4 139.3h0M112.8 149.2h0M126.7 140.1h0M121.5 146.8h0M128.2 135.9h0M132.2 133.4h0M115.6 147.7h0M126.5 145.9h0M121.6 136.0h0M123.7 137.9h0M122.8 136.7h0M123.7 147.1h0M113.5 148.4h0M136.8 130.4h0M121.1 141.6h0M132.7 131.9h0M115.5 140.1h0M136.4 140.1h0M108.5 140.8h0M128.1 144.6h0M137.4 139.8h0M133.0 136.4h0M115.7 140.4h0M119.8 143.5h0M123.2 136.3h0M101.5 146.4h0M129.0 139.0h0M133.8 135.7h0M116.9 143.4h0M126.1 143.9h0M104.9 141.8h0M126.6 137.4h0M128.4 137.7h0M105.6 148.5h0M124.0 133.3h0M122.9 137.3h0M104.5 144.5h0M123.8 141.0h0M125.5 140.1h0M100.3 149.5h0M118.6 148.3h0M120.9 147.2h0M111.8 144.7h0"/>
<path stroke="#050202" stroke-width="1.7" stroke-linecap="round" d="M106.2 147.1h0M123.0 143.6h0M124.5 142.9h0M129.1 141.1h0M119.9 148.7h0M133.5 139.7h0M127.0 135.5h0M118.4 142.4h0M120.6 141.7h0M122.7 141.9h0M115.0 142.6h0M116.2 142.4h0M119.9 140.3h0M124.7 139.3h0M127.1 137.6h0M100.3 148.2h0M125.2 143.7h0M127.9 142.7h0M125.1 146.4h0M128.8 145.8h0M116.9 143.6h0M128.0 139.6h0M99.5 147.9h0M104.4 145.8h0M109.2 144.6h0M114.1 144.0h0M123.7 140.6h0M135.8 135.6h0M119.5 139.1h0M125.2 138.7h0M127.2 138.1h0M132.9 136.0h0M101.3 148.8h0M126.7 145.0h0M109.8 142.6h0M111.0 142.6h0M117.0 139.9h0M119.5 139.7h0M120.7 139.7h0M135.2 133.2h0M102.3 145.6h0M104.8 145.5h0M113.4 143.4h0M125.8 141.8h0M132.0 139.3h0M120.0 143.7h0M107.2 146.7h0M114.3 139.1h0M127.2 133.7h0M102.8 143.0h0M103.3 143.1h0M123.8 135.6h0M126.1 137.0h0M137.5 130.8h0M106.3 141.8h0M121.8 136.5h0M115.6 139.5h0M117.7 139.1h0M121.8 136.3h0M122.1 141.4h0M132.8 139.1h0M121.2 146.0h0M124.2 145.4h0M134.5 142.2h0M123.8 148.2h0M123.2 141.3h0M135.2 135.9h0M118.6 140.1h0M130.4 137.3h0M133.8 135.5h0M99.2 145.0h0M108.9 141.9h0M118.5 138.3h0M133.1 132.9h0M128.1 134.5h0M114.5 143.9h0M121.2 142.2h0M111.7 145.8h0M113.1 142.2h0M116.9 142.2h0M118.1 141.6h0M126.9 138.5h0M128.1 137.8h0M134.4 133.8h0M135.6 134.8h0M117.5 144.8h0M120.1 143.8h0M99.3 148.3h0M115.5 144.1h0M116.9 144.2h0M121.3 143.4h0M128.7 141.5h0M131.6 141.5h0M118.9 139.4h0M120.1 139.0h0M122.3 138.2h0M125.7 138.3h0M129.1 135.9h0M127.7 134.3h0M103.6 144.9h0M115.8 141.3h0M123.7 138.5h0M124.8 137.8h0M135.9 134.2h0M121.0 143.3h0M124.7 143.1h0M109.1 141.3h0M100.7 145.0h0M127.1 138.3h0M132.7 136.3h0M143.8 134.8h0M129.5 135.1h0M102.3 147.3h0M111.4 145.9h0M127.8 141.7h0M109.4 141.7h0M112.5 141.4h0M131.5 137.5h0M115.5 142.4h0M119.7 140.8h0M121.8 140.1h0M126.0 138.3h0M95.5 147.1h0M111.7 140.9h0M114.1 142.3h0M125.5 139.2h0M104.8 149.9h0M97.7 151.5h0M102.8 144.1h0M120.1 138.2h0M123.9 139.7h0M137.3 135.7h0M102.0 147.5h0M105.8 146.6h0M109.7 145.4h0M127.0 141.4h0M102.9 148.4h0M124.5 142.4h0M126.9 142.7h0M131.7 140.5h0M127.3 135.4h0M110.0 142.1h0M108.8 148.9h0M115.4 147.8h0M114.3 140.9h0M115.4 139.6h0M116.5 139.7h0M124.1 138.1h0M125.1 136.8h0M110.4 141.2h0M122.8 138.4h0M124.8 137.5h0M116.9 141.7h0M124.0 140.6h0M123.9 134.9h0M102.6 149.9h0M121.7 147.5h0M98.7 146.4h0M112.0 142.5h0M114.7 143.0h0M125.4 138.8h0M100.3 145.4h0M104.8 144.5h0M113.8 142.0h0M114.9 141.9h0M126.1 137.0h0M128.3 136.9h0M131.7 136.1h0M124.2 147.1h0M125.1 139.5h0M128.7 137.7h0M130.5 137.4h0M103.8 146.8h0M108.3 144.9h0M99.2 148.9h0M129.3 140.2h0M119.7 138.1h0M129.8 133.2h0M127.3 133.2h0M108.2 145.6h0M130.7 142.5h0M122.3 140.7h0M132.9 137.4h0M106.4 145.5h0M120.9 141.0h0M122.8 140.1h0M128.2 139.1h0M131.9 136.3h0M130.3 133.6h0M131.8 133.3h0M134.8 132.4h0M104.8 143.3h0M112.2 141.2h0M113.7 140.6h0M127.0 136.5h0M132.9 134.6h0M138.9 133.7h0M112.0 144.4h0M113.4 143.7h0M114.9 145.5h0M107.8 143.1h0M122.9 137.7h0M107.7 148.6h0M120.9 145.6h0M121.8 145.0h0M128.4 142.4h0M129.3 142.8h0M122.4 142.5h0M112.6 148.5h0M132.3 135.3h0M139.4 131.3h0M108.0 143.3h0M124.1 136.4h0M126.4 135.8h0M128.7 135.5h0M95.5 146.3h0M128.3 133.7h0M122.0 137.3h0M127.9 132.6h0M122.0 140.5h0M124.6 139.5h0M128.9 132.3h0M111.4 141.8h0M121.4 137.0h0M123.0 139.3h0M132.6 135.4h0M103.1 146.5h0M121.0 142.3h0M125.4 141.5h0M132.6 135.8h0M140.4 132.4h0M104.8 145.5h0M111.5 143.1h0M119.8 140.8h0M131.5 135.2h0M133.2 134.4h0M109.1 143.5h0M118.7 140.1h0M122.6 139.5h0M123.5 137.6h0M114.2 142.7h0M119.3 140.8h0M124.5 138.1h0M119.7 143.4h0M107.2 146.4h0M123.8 142.1h0M131.2 140.7h0M107.0 140.9h0M115.1 141.9h0M124.6 133.8h0M111.1 148.6h0M125.4 145.3h0M109.4 145.8h0M122.9 140.7h0M127.4 140.2h0M129.7 139.3h0M133.0 138.5h0M100.1 148.8h0M118.1 144.5h0M122.1 143.5h0M105.8 144.5h0M108.7 143.9h0M112.6 142.2h0M125.2 137.7h0M126.2 137.8h0M135.0 134.3h0M115.7 143.5h0M124.5 146.3h0M99.6 147.2h0M122.7 140.3h0M125.0 139.1h0M107.8 143.3h0M122.7 138.4h0M125.4 137.7h0M126.8 136.5h0M133.6 134.2h0M117.1 147.6h0M111.8 144.8h0M113.1 145.2h0M119.4 142.9h0M120.7 142.0h0M128.3 138.7h0M129.5 137.6h0M130.8 137.0h0M123.4 136.8h0M129.5 133.7h0M105.3 149.6h0M116.7 139.6h0M127.9 136.5h0M105.8 143.0h0M96.3 148.7h0M109.9 145.9h0M126.3 139.9h0M129.2 138.8h0M132.2 137.2h0M96.6 146.1h0M106.8 143.5h0M118.3 139.9h0M129.9 136.0h0M131.3 135.2h0M104.3 145.0h0M108.5 144.1h0M110.5 142.7h0M125.0 139.0h0M114.1 147.5h0M129.2 142.3h0M127.2 144.7h0M107.0 142.8h0M125.7 135.5h0M133.9 130.8h0M104.9 142.2h0M118.1 137.5h0M129.3 134.0h0M125.4 138.5h0M131.9 137.3h0M100.1 147.2h0M118.3 141.8h0M123.9 139.5h0M126.7 139.1h0M130.9 137.2h0M128.0 142.9h0M113.0 139.2h0M117.5 138.3h0M120.4 138.2h0M128.2 134.4h0M113.9 143.5h0M128.0 140.8h0M135.0 138.2h0M117.3 145.1h0M117.9 138.7h0M122.6 137.5h0M125.0 135.6h0M117.5 146.7h0M120.1 146.5h0M121.5 146.1h0M124.1 145.2h0M125.4 144.6h0M131.3 136.4h0M114.7 142.4h0M111.1 148.4h0M116.3 145.1h0M111.7 148.8h0M118.9 147.8h0M133.1 135.1h0M135.3 134.1h0M101.4 147.4h0M102.5 147.7h0M115.2 144.7h0M122.1 142.9h0M123.2 142.3h0M125.5 141.9h0M127.9 141.2h0M129.0 141.2h0M121.7 136.7h0M108.5 142.8h0M126.0 135.1h0M112.0 143.7h0M115.0 142.8h0M128.5 139.5h0M130.0 138.3h0M136.0 135.6h0M118.1 142.1h0M135.9 136.3h0M119.5 142.2h0M126.6 140.2h0M136.2 135.5h0M138.6 135.1h0M113.7 145.7h0M125.0 144.8h0M128.8 144.0h0M103.4 146.9h0M112.0 145.5h0M118.1 143.3h0M127.9 140.9h0M128.4 143.4h0M101.1 149.1h0M102.8 149.1h0M106.1 148.0h0M121.9 136.7h0M100.0 146.7h0M112.4 143.3h0M133.7 134.7h0M134.4 138.1h0M114.9 142.6h0M121.8 140.4h0M125.9 139.4h0M128.6 138.5h0M131.4 138.8h0M136.9 134.6h0M124.3 144.2h0M127.7 142.8h0M132.8 140.0h0M111.8 149.9h0M108.9 142.6h0M115.9 140.7h0M106.9 145.2h0M123.8 139.2h0M99.9 147.7h0M116.5 143.8h0M123.2 141.3h0M124.9 140.5h0M129.9 138.5h0M107.9 144.6h0M108.9 145.6h0M109.9 144.8h0M110.9 144.0h0M111.9 143.6h0M134.7 137.4h0M141.6 135.1h0M112.0 145.5h0M114.3 144.0h0M122.1 140.7h0M132.3 136.2h0M108.4 146.3h0M128.9 140.7h0M113.8 141.3h0M115.3 140.7h0M136.3 134.3h0M125.0 144.3h0M125.9 144.1h0M128.8 142.8h0M114.6 139.7h0M124.3 135.9h0M120.7 143.3h0M126.1 140.3h0M109.1 145.0h0M108.5 141.9h0M111.3 141.4h0M129.5 134.2h0M132.0 131.4h0M97.6 147.4h0M121.7 140.6h0M128.2 137.4h0M130.4 136.2h0M132.6 136.1h0"/>
<path stroke="#e8e8e8" stroke-width="1" d="M96.5 150v1M119.5 137v1M135.5 133v1M110.5 145v1M110.5 146v1M116.5 142v1M122.5 147v1M124.5 132v1M109.5 141v1M107.5 149v1M120.5 142v1M107.5 138v1M95.5 148v1M110.5 142v1M93.5 146v1M114.5 138v1M136.5 127v1M141.5 135v1M138.5 141v1M125.5 133v1M89.5 153v1M125.5 140v1M153.5 130v1M136.5 132v1M98.5 154v1M129.5 139v1M95.5 152v1M136.5 142v1M130.5 145v1M121.5 148v1M93.5 154v1M107.5 142v1M128.5 141v1M128.5 144v1M145.5 134v1M129.5 146v1M85.5 152v1M111.5 141v1M120.5 138v1M116.5 138v1M113.5 136v1M114.5 140v1M145.5 128v1M95.5 145v1M85.5 148v1M103.5 143v1M89.5 142v1M89.5 149v1M131.5 135v1M115.5 134v1M147.5 132v1M109.5 138v1M128.5 142v1M109.5 152v1M111.5 144v1M119.5 135v1M122.5 149v1M71.5 153v1M149.5 125v1M110.5 144v1M126.5 135v1M132.5 130v1M149.5 132v1M129.5 129v1M124.5 137v1M77.5 150v1M148.5 130v1M103.5 152v1M134.5 137v1M118.5 147v1M115.5 139v1M125.5 134v1M126.5 142v1M128.5 132v1M95.5 146v1M114.5 145v1M131.5 139v1M131.5 146v1M107.5 141v1M124.5 143v1M142.5 126v1M82.5 154v1M91.5 147v1M126.5 136v1M111.5 138v1M123.5 133v1M128.5 146v1M130.5 136v1M89.5 152v1M123.5 130v1M115.5 149v1M121.5 134v1M86.5 152v1M124.5 147v1M129.5 146v1"/>
<path fill="none" stroke="#5b6b6b" stroke-width="1" d="M30.6 158.9 L31.5 158.7 L32.4 158.6 L33.4 158.5 L34.3 158.3 L35.2 158.2 L36.1 158.1 L37.1 157.9 L38.0 157.8 L38.9 157.7 L39.8 157.5 L40.7 157.4 L41.7 157.2 L42.6 157.1 L43.5 156.9 L44.4 156.8 L45.4 156.6 L46.3 156.5 L47.2 156.3 L48.1 156.2 L49.0 156.0 L50.0 155.9 L50.9 155.7 L51.8 155.5 L52.7 155.4 L53.7 155.2 L54.6 155.1 L55.5 154.9 L56.4 154.7 L57.3 154.6 L58.3 154.4 L59.2 154.2 L60.1 154.0 L61.0 153.9 L62.0 153.7 L62.9 153.5 L63.8 153.3 L64.7 153.2 L65.6 153.0 L66.6 152.8 L67.5 152.6 L68.4 152.4 L69.3 152.2 L70.2 152.0 L71.2 151.8 L72.1 151.6 L73.0 151.4 L73.9 151.2 L74.9 151.0 L75.8 150.8 L76.7 150.6 L77.6 150.4 L78.5 150.2 L79.5 150.0 L80.4 149.8 L81.3 149.5 L82.2 149.3 L83.2 149.1 L84.1 148.9 L85.0 148.6 L85.9 148.4 L86.8 148.2 L87.8 147.9 L88.7 147.7 L89.6 147.4 L90.5 147.2 L91.5 146.9 L92.4 146.7 L93.3 146.4 L94.2 146.2 L95.1 145.9 L96.1 145.7 L97.0 145.4 L97.9 145.1 L98.8 144.8 L99.8 144.6 L100.7 144.3 L101.6 144.0 L102.5 143.7 L103.4 143.4 L104.4 143.1 L105.3 142.8 L106.2 142.5 L107.1 142.2 L108.1 141.9 L109.0 141.5 L109.9 141.2 L110.8 140.9 L111.7 140.6 L112.7 140.2 L113.6 139.9 L114.5 139.5 L115.4 139.2 L116.4 138.8 L117.3 138.4 L118.2 138.1 L119.1 137.7 L120.0 137.3 L121.0 136.9 L121.9 136.5 L122.8 136.1 L123.7 135.7 L124.7 135.3 L125.6 134.9 L126.5 134.4 L127.4 134.0 L128.3 133.6 L129.3 133.1 L130.2 132.7 L131.1 132.2 L132.0 131.7 L133.0 131.2 L133.9 130.7 L134.8 130.2 L135.7 129.7 L136.6 129.2 L137.6 128.7 L138.5 128.1 L139.4 127.6 L140.3 127.0 L141.2 126.4 L142.2 125.8 L143.1 125.2 L144.0 124.6 L144.9 124.0 L145.9 123.3 L146.8 122.7 L147.7 122.0 L148.6 121.3 L149.5 120.6 L150.5 119.9 L151.4 119.2 L152.3 118.4 L153.2 117.7 L154.2 116.9 L155.1 116.1 L156.0 115.2 L156.9 114.4 L157.8 113.5 L158.8 112.6 L159.7 111.7 L160.6 110.8 L161.5 109.8 L162.5 108.8 L163.4 107.8 L164.3 106.7 L165.2 105.6 L166.1 104.5 L167.1 103.3 L168.0 102.1 L168.9 100.9 L169.8 99.6 L170.8 98.3 L171.7 96.9 L172.6 95.5 L173.5 94.0 L174.4 92.5 L175.4 90.9 L176.3 89.3 L177.2 87.6 L178.1 85.8 L179.1 83.9 L180.0 82.0 L180.9 80.0 L181.8 77.9 L182.7 75.6 L183.7 73.3 L184.6 70.9 L185.5 68.3 L186.4 65.6 L187.4 62.8 L188.3 59.8 L189.2 56.6 L190.1 53.2 L191.0 49.6 L192.0 45.8 L192.9 41.7 L193.8 37.3 L194.7 32.6 L195.7 27.5 L196.6 22.0 L197.5 16.0 L198.4 9.5 L199.3 2.3 L200.3 -5.6 L201.2 -14.5 L202.1 -24.3 L203.0 -35.5 L204.0 -48.2 L204.9 -62.9 L205.8 -80.1 L206.7 -100.6 L207.6 -125.5 L208.6 -156.5 L209.5 -196.7 L210.4 -251.4 L211.3 -331.3 L212.2 -463.1 L213.2 -738.8 L214.1 -2022.3"/>
</g>
<rect x="30.6" y="32.5" width="183.80" height="168.50" fill="none" stroke="#262626" stroke-width="1"/>
<path fill="none" stroke="#262626" stroke-width="0.9" d="M36.73 201.0v-2.1M36.73 32.5v2.1M42.85 201.0v-2.1M42.85 32.5v2.1M48.98 201.0v-2.1M48.98 32.5v2.1M55.11 201.0v-2.1M55.11 32.5v2.1M67.36 201.0v-2.1M67.36 32.5v2.1M73.49 201.0v-2.1M73.49 32.5v2.1M79.61 201.0v-2.1M79.61 32.5v2.1M85.74 201.0v-2.1M85.74 32.5v2.1M97.99 201.0v-2.1M97.99 32.5v2.1M104.12 201.0v-2.1M104.12 32.5v2.1M110.25 201.0v-2.1M110.25 32.5v2.1M116.37 201.0v-2.1M116.37 32.5v2.1M128.63 201.0v-2.1M128.63 32.5v2.1M134.75 201.0v-2.1M134.75 32.5v2.1M140.88 201.0v-2.1M140.88 32.5v2.1M147.01 201.0v-2.1M147.01 32.5v2.1M159.26 201.0v-2.1M159.26 32.5v2.1M165.39 201.0v-2.1M165.39 32.5v2.1M171.51 201.0v-2.1M171.51 32.5v2.1M177.64 201.0v-2.1M177.64 32.5v2.1M189.89 201.0v-2.1M189.89 32.5v2.1M196.02 201.0v-2.1M196.02 32.5v2.1M202.15 201.0v-2.1M202.15 32.5v2.1M208.27 201.0v-2.1M208.27 32.5v2.1M30.60 201.0v-4.0M30.60 32.5v4.0M61.23 201.0v-4.0M61.23 32.5v4.0M91.87 201.0v-4.0M91.87 32.5v4.0M122.50 201.0v-4.0M122.50 32.5v4.0M153.13 201.0v-4.0M153.13 32.5v4.0M183.77 201.0v-4.0M183.77 32.5v4.0M214.40 201.0v-4.0M214.40 32.5v4.0M30.6 192.57h2.1M214.4 192.57h-2.1M30.6 184.15h2.1M214.4 184.15h-2.1M30.6 175.72h2.1M214.4 175.72h-2.1M30.6 167.30h2.1M214.4 167.30h-2.1M30.6 150.45h2.1M214.4 150.45h-2.1M30.6 142.03h2.1M214.4 142.03h-2.1M30.6 133.60h2.1M214.4 133.60h-2.1M30.6 125.17h2.1M214.4 125.17h-2.1M30.6 108.32h2.1M214.4 108.32h-2.1M30.6 99.90h2.1M214.4 99.90h-2.1M30.6 91.47h2.1M214.4 91.47h-2.1M30.6 83.05h2.1M214.4 83.05h-2.1M30.6 66.20h2.1M214.4 66.20h-2.1M30.6 57.78h2.1M214.4 57.78h-2.1M30.6 49.35h2.1M214.4 49.35h-2.1M30.6 40.93h2.1M214.4 40.93h-2.1M30.6 201.00h4.0M214.4 201.00h-4.0M30.6 158.88h4.0M214.4 158.88h-4.0M30.6 116.75h4.0M214.4 116.75h-4.0M30.6 74.62h4.0M214.4 74.62h-4.0M30.6 32.50h4.0M214.4 32.50h-4.0"/>
<text x="30.60" y="214.8" font-size="10" text-anchor="middle" fill="#1a1a1a">40</text>
<text x="61.23" y="214.8" font-size="10" text-anchor="middle" fill="#1a1a1a">50</text>
<text x="91.87" y="214.8" font-size="10" text-anchor="middle" fill="#1a1a1a">60</text>
<text x="122.50" y="214.8" font-size="10" text-anchor="middle" fill="#1a1a1a">70</text>
<text x="153.13" y="214.8" font-size="10" text-anchor="middle" fill="#1a1a1a">80</text>
<text x="183.77" y="214.8" font-size="10" text-anchor="middle" fill="#1a1a1a">90</text>
<text x="214.40" y="214.8" font-size="10" text-anchor="middle" fill="#1a1a1a">100</text>
<text x="26.8" y="205.10" font-size="10" text-anchor="end" fill="#1a1a1a">0</text>
<text x="26.8" y="162.97" font-size="10" text-anchor="end" fill="#1a1a1a">1</text>
<text x="26.8" y="120.85" font-size="10" text-anchor="end" fill="#1a1a1a">2</text>
<text x="26.8" y="78.72" font-size="10" text-anchor="end" fill="#1a1a1a">3</text>
<text x="26.8" y="36.60" font-size="10" text-anchor="end" fill="#1a1a1a">4</text>
<text x="122.5" y="229.7" font-size="11" text-anchor="middle" fill="#1a1a1a">RH (%)</text>
<text transform="translate(13.2,133) rotate(-90)" font-size="11.3" fill="#1a1a1a">f<tspan font-size="7.8" dy="4" dx="0.4">β</tspan><tspan dy="-4" dx="0.3">(RH)</tspan></text>
<text x="36.6" y="51.1" font-size="9.8" fill="#1a1a1a">(a)</text>
<text x="37" y="70.4" font-size="10" fill="#1a1a1a">Total case number:192</text>
<text x="37" y="87.2" font-size="10" fill="#1a1a1a">γ=0.62±0.24</text>
<text x="37" y="105.3" font-size="10" fill="#1a1a1a">R<tspan font-size="6.8" dy="-5.2">2</tspan><tspan dy="5.2">=0.91±0.09</tspan></text>
<defs><linearGradient id="cg" x1="0" y1="1" x2="0" y2="0"><stop offset="0.0000" stop-color="#f5f260"/><stop offset="0.0625" stop-color="#ecdc68"/><stop offset="0.1825" stop-color="#e2b85e"/><stop offset="0.2725" stop-color="#d89a60"/><stop offset="0.3900" stop-color="#cf7a5c"/><stop offset="0.5100" stop-color="#c05858"/><stop offset="0.6275" stop-color="#8f4848"/><stop offset="0.7375" stop-color="#6a3030"/><stop offset="0.8675" stop-color="#3a1c1c"/><stop offset="1.0000" stop-color="#000000"/></linearGradient></defs>
<rect x="222.5" y="32.5" width="7.0" height="168.50" fill="url(#cg)" stroke="#8a8a8a" stroke-width="0.8"/>
<path stroke="#333" stroke-width="0.8" d="M229.5 158.88h-1.6M229.5 116.75h-1.6M229.5 74.62h-1.6"/>
<text x="232.5" y="205.10" font-size="10" fill="#1a1a1a">0</text>
<text x="232.5" y="162.97" font-size="10" fill="#1a1a1a">1</text>
<text x="232.5" y="120.85" font-size="10" fill="#1a1a1a">2</text>
<text x="232.5" y="78.72" font-size="10" fill="#1a1a1a">3</text>
<text x="232.5" y="36.60" font-size="10" fill="#1a1a1a">4</text>
<text transform="translate(250,167.2) rotate(-90)" font-size="10.05" fill="#1a1a1a">Probability Density (%)</text>
<clipPath id="cb"><rect x="293.7" y="32.4" width="183.0" height="168.7"/></clipPath>
<g clip-path="url(#cb)">
<path fill="none" stroke="#4472c4" stroke-width="1.9" stroke-linejoin="round" stroke-linecap="round"  d="M295.67 31.00 L295.89 32.60 L295.31 34.20 L295.62 35.80 L296.15 37.40 L296.15 39.00 L295.08 40.60 L295.19 42.20 L294.97 43.80 L295.52 45.40 L294.94 47.00 L295.54 48.60 L295.81 50.20 L295.29 51.80 L295.85 53.40 L295.73 55.00 L294.93 56.60 L295.68 58.20 L295.26 59.80 L295.48 61.40 L295.30 63.00 L295.87 64.60 L295.52 66.20 L295.12 67.80 L295.66 69.40 L295.99 71.00 L295.33 72.60 L295.21 74.20 L295.44 75.80 L296.21 77.40 L295.60 78.00 L298.00 82.00 L299.00 86.00 L298.20 89.00 L300.50 93.00 L300.20 98.00 L301.00 102.00 L302.50 104.00 L304.00 107.00 L304.30 110.00 L304.60 113.00 L303.80 116.00 L304.00 118.00 L302.50 122.00 L302.00 125.00 L301.30 129.00 L301.00 132.00 L302.50 136.00 L304.50 141.00 L305.50 144.00 L306.20 148.00 L306.50 149.40 L338.00 153.80 L360.00 157.00 L422.00 164.40 L391.00 173.70 L450.60 183.10 L445.50 185.00 L443.50 187.00 L435.00 189.00 L415.00 191.00 L393.00 192.40 L392.00 194.60 L362.40 195.00 L414.40 195.00 L414.40 202.00"/>
<path fill="none" stroke="#f2caca" stroke-width="3.6" stroke-linejoin="round" stroke-linecap="round"  d="M397.00 162.80 L393.00 162.60 L373.50 171.80 L380.00 174.50"/>
<path fill="none" stroke="#d04a50" stroke-width="1.9" stroke-linejoin="round" stroke-linecap="round"  d="M295.67 31.00 L295.89 32.60 L295.31 34.20 L295.62 35.80 L296.15 37.40 L296.15 39.00 L295.08 40.60 L295.19 42.20 L294.97 43.80 L295.52 45.40 L294.94 47.00 L295.54 48.60 L295.81 50.20 L295.29 51.80 L295.85 53.40 L295.73 55.00 L294.93 56.60 L295.68 58.20 L295.26 59.80 L295.48 61.40 L295.30 63.00 L295.87 64.60 L295.52 66.20 L295.12 67.80 L295.66 69.40 L295.99 71.00 L295.33 72.60 L295.21 74.20 L295.44 75.80 L296.21 77.40 L295.60 78.00 L298.00 82.00 L299.00 86.00 L298.20 89.00 L300.50 93.00 L300.20 98.00 L301.00 102.00 L302.50 104.00 L304.00 107.00 L304.30 110.00 L304.60 113.00 L303.80 116.00 L304.00 118.00 L302.50 122.00 L302.00 125.00 L301.30 129.00 L301.00 132.00 L301.50 136.00 L302.00 140.00 L302.60 143.00 L303.00 146.00 L303.50 149.00 L305.50 150.40 L309.00 151.30 L338.00 155.80 L360.00 159.40 L394.50 163.80 L376.20 173.20 L420.00 178.50 L449.40 183.60 L445.50 185.00 L443.50 187.00 L435.00 189.00 L415.00 191.00 L393.00 192.40 L392.00 194.60 L362.40 195.00 L414.40 195.00 L414.40 202.00"/>
<path fill="none" stroke="#000" stroke-width="2.0" stroke-linecap="round" d="M330.00 30.00 C329.83 30.50 329.58 31.33 329.00 33.00 C328.42 34.67 327.20 37.83 326.50 40.00 C325.80 42.17 325.25 43.67 324.80 46.00 C324.35 48.33 324.10 51.83 323.80 54.00 C323.50 56.17 323.63 57.33 323.00 59.00 C322.37 60.67 321.33 62.50 320.00 64.00 C318.67 65.50 316.50 66.67 315.00 68.00 C313.50 69.33 311.92 70.67 311.00 72.00 C310.08 73.33 309.67 75.00 309.50 76.00 C309.33 77.00 309.58 77.33 310.00 78.00 C310.42 78.67 310.67 79.00 312.00 80.00 C313.33 81.00 315.67 82.67 318.00 84.00 C320.33 85.33 323.33 86.83 326.00 88.00 C328.67 89.17 331.67 90.00 334.00 91.00 C336.33 92.00 338.50 93.00 340.00 94.00 C341.50 95.00 342.33 95.67 343.00 97.00 C343.67 98.33 344.17 100.33 344.00 102.00 C343.83 103.67 342.75 105.33 342.00 107.00 C341.25 108.67 339.83 110.50 339.50 112.00 C339.17 113.50 339.25 114.67 340.00 116.00 C340.75 117.33 342.33 118.75 344.00 120.00 C345.67 121.25 348.17 122.50 350.00 123.50 C351.83 124.50 352.50 125.00 355.00 126.00 C357.50 127.00 361.67 128.25 365.00 129.50 C368.33 130.75 371.67 132.25 375.00 133.50 C378.33 134.75 381.67 135.58 385.00 137.00 C388.33 138.42 392.33 140.33 395.00 142.00 C397.67 143.67 399.33 145.17 401.00 147.00 C402.67 148.83 404.25 151.33 405.00 153.00 C405.75 154.67 405.67 155.50 405.50 157.00 C405.33 158.50 404.92 160.33 404.00 162.00 C403.08 163.67 402.00 165.33 400.00 167.00 C398.00 168.67 395.33 170.17 392.00 172.00 C388.67 173.83 383.67 176.33 380.00 178.00 C376.33 179.67 373.33 180.67 370.00 182.00 C366.67 183.33 363.33 184.83 360.00 186.00 C356.67 187.17 353.33 187.92 350.00 189.00 C346.67 190.08 344.33 190.93 340.00 192.50 C335.67 194.07 327.83 196.95 324.00 198.40 C320.17 199.85 318.17 200.73 317.00 201.20"/>
</g>
<rect x="293.7" y="32.4" width="183.00" height="168.70" fill="none" stroke="#262626" stroke-width="1"/>
<path fill="none" stroke="#262626" stroke-width="0.9" d="M301.02 201.1v-2.1M301.02 32.4v2.1M308.34 201.1v-2.1M308.34 32.4v2.1M315.66 201.1v-2.1M315.66 32.4v2.1M322.98 201.1v-2.1M322.98 32.4v2.1M337.62 201.1v-2.1M337.62 32.4v2.1M344.94 201.1v-2.1M344.94 32.4v2.1M352.26 201.1v-2.1M352.26 32.4v2.1M359.58 201.1v-2.1M359.58 32.4v2.1M374.22 201.1v-2.1M374.22 32.4v2.1M381.54 201.1v-2.1M381.54 32.4v2.1M388.86 201.1v-2.1M388.86 32.4v2.1M396.18 201.1v-2.1M396.18 32.4v2.1M410.82 201.1v-2.1M410.82 32.4v2.1M418.14 201.1v-2.1M418.14 32.4v2.1M425.46 201.1v-2.1M425.46 32.4v2.1M432.78 201.1v-2.1M432.78 32.4v2.1M447.42 201.1v-2.1M447.42 32.4v2.1M454.74 201.1v-2.1M454.74 32.4v2.1M462.06 201.1v-2.1M462.06 32.4v2.1M469.38 201.1v-2.1M469.38 32.4v2.1M293.70 201.1v-4.0M293.70 32.4v4.0M330.30 201.1v-4.0M330.30 32.4v4.0M366.90 201.1v-4.0M366.90 32.4v4.0M403.50 201.1v-4.0M403.50 32.4v4.0M440.10 201.1v-4.0M440.10 32.4v4.0M476.70 201.1v-4.0M476.70 32.4v4.0M293.7 196.28h2.1M476.7 196.28h-2.1M293.7 191.46h2.1M476.7 191.46h-2.1M293.7 186.64h2.1M476.7 186.64h-2.1M293.7 181.82h2.1M476.7 181.82h-2.1M293.7 172.18h2.1M476.7 172.18h-2.1M293.7 167.36h2.1M476.7 167.36h-2.1M293.7 162.54h2.1M476.7 162.54h-2.1M293.7 157.72h2.1M476.7 157.72h-2.1M293.7 148.08h2.1M476.7 148.08h-2.1M293.7 143.26h2.1M476.7 143.26h-2.1M293.7 138.44h2.1M476.7 138.44h-2.1M293.7 133.62h2.1M476.7 133.62h-2.1M293.7 123.98h2.1M476.7 123.98h-2.1M293.7 119.16h2.1M476.7 119.16h-2.1M293.7 114.34h2.1M476.7 114.34h-2.1M293.7 109.52h2.1M476.7 109.52h-2.1M293.7 99.88h2.1M476.7 99.88h-2.1M293.7 95.06h2.1M476.7 95.06h-2.1M293.7 90.24h2.1M476.7 90.24h-2.1M293.7 85.42h2.1M476.7 85.42h-2.1M293.7 75.78h2.1M476.7 75.78h-2.1M293.7 70.96h2.1M476.7 70.96h-2.1M293.7 66.14h2.1M476.7 66.14h-2.1M293.7 61.32h2.1M476.7 61.32h-2.1M293.7 51.68h2.1M476.7 51.68h-2.1M293.7 46.86h2.1M476.7 46.86h-2.1M293.7 42.04h2.1M476.7 42.04h-2.1M293.7 37.22h2.1M476.7 37.22h-2.1M293.7 201.10h4.0M476.7 201.10h-4.0M293.7 177.00h4.0M476.7 177.00h-4.0M293.7 152.90h4.0M476.7 152.90h-4.0M293.7 128.80h4.0M476.7 128.80h-4.0M293.7 104.70h4.0M476.7 104.70h-4.0M293.7 80.60h4.0M476.7 80.60h-4.0M293.7 56.50h4.0M476.7 56.50h-4.0M293.7 32.40h4.0M476.7 32.40h-4.0"/>
<text x="293.70" y="214.8" font-size="10" text-anchor="middle" fill="#1a1a1a">0.0</text>
<text x="330.30" y="214.8" font-size="10" text-anchor="middle" fill="#1a1a1a">0.5</text>
<text x="366.90" y="214.8" font-size="10" text-anchor="middle" fill="#1a1a1a">1.0</text>
<text x="403.50" y="214.8" font-size="10" text-anchor="middle" fill="#1a1a1a">1.5</text>
<text x="440.10" y="214.8" font-size="10" text-anchor="middle" fill="#1a1a1a">2.0</text>
<text x="476.70" y="214.8" font-size="10" text-anchor="middle" fill="#1a1a1a">2.5</text>
<text x="293.70" y="27" font-size="10" text-anchor="middle" fill="#1a1a1a">0</text>
<text x="330.30" y="27" font-size="10" text-anchor="middle" fill="#1a1a1a">20</text>
<text x="366.90" y="27" font-size="10" text-anchor="middle" fill="#1a1a1a">40</text>
<text x="403.50" y="27" font-size="10" text-anchor="middle" fill="#1a1a1a">60</text>
<text x="440.10" y="27" font-size="10" text-anchor="middle" fill="#1a1a1a">80</text>
<text x="476.70" y="27" font-size="10" text-anchor="middle" fill="#1a1a1a">100</text>
<text x="290.6" y="205.30" font-size="10" text-anchor="end" fill="#1a1a1a">0</text>
<text x="290.6" y="181.20" font-size="10" text-anchor="end" fill="#1a1a1a">1</text>
<text x="290.6" y="157.10" font-size="10" text-anchor="end" fill="#1a1a1a">2</text>
<text x="290.6" y="133.00" font-size="10" text-anchor="end" fill="#1a1a1a">3</text>
<text x="290.6" y="108.90" font-size="10" text-anchor="end" fill="#1a1a1a">4</text>
<text x="290.6" y="84.80" font-size="10" text-anchor="end" fill="#1a1a1a">5</text>
<text x="290.6" y="60.70" font-size="10" text-anchor="end" fill="#1a1a1a">6</text>
<text x="290.6" y="36.60" font-size="10" text-anchor="end" fill="#1a1a1a">7</text>
<text x="385.2" y="13.2" font-size="11" text-anchor="middle" fill="#1a1a1a">RH (%)</text>
<text transform="translate(281.5,148) rotate(-90)" font-size="11" fill="#1a1a1a">Altitude (km)</text>
<text x="276" y="232.3" font-size="10.85" fill="#1a1a1a">Anthropogenic aerosol backscatter (Mm<tspan font-size="8.6" dy="-4.9">-1</tspan><tspan dy="4.9">sr</tspan><tspan font-size="8.6" dy="-4.9">-1</tspan><tspan dy="4.9">)</tspan></text>
<text x="331" y="45.5" font-size="9.75" font-weight="bold" fill="#000">2021-9-12 5:20-6:39 LT</text>
<text x="300.5" y="48.9" font-size="10" fill="#1a1a1a">(b)</text>
<text x="352.3" y="68.1" font-size="9.85" fill="#000">γ=0.62±0.24</text>
<text x="352.3" y="80.7" font-size="10" fill="#4472c4">AOD<tspan font-size="8" dy="3.8">amb</tspan><tspan dy="-3.8">=0.173</tspan></text>
<text x="352.3" y="95.6" font-size="10" fill="#cf4a4f">AOD<tspan font-size="8" dy="3.8">dry</tspan><tspan dy="-3.8">=0.159</tspan></text>
</svg></body></html>
